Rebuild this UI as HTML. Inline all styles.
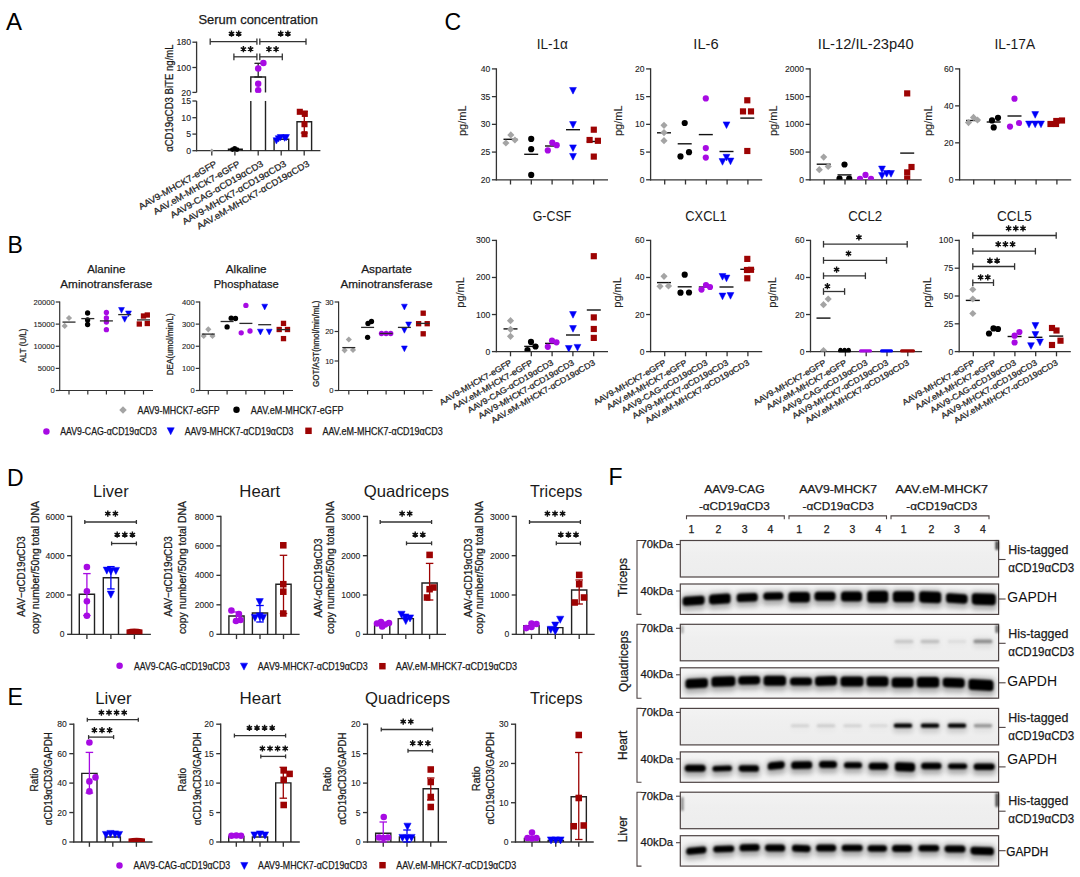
<!DOCTYPE html>
<html><head><meta charset="utf-8"><style>html,body{margin:0;padding:0;background:#fff;width:1080px;height:877px;overflow:hidden}svg{display:block}text{font-family:"Liberation Sans",sans-serif}</style></head>
<body><svg width="1080" height="877" viewBox="0 0 1080 877" font-family="Liberation Sans"><defs><clipPath id="cl0"><rect x="496.4" y="28.9" width="121.6" height="150.9"/></clipPath><clipPath id="cl1"><rect x="650.6" y="28.9" width="121.6" height="150.9"/></clipPath><clipPath id="cl2"><rect x="810.1" y="28.9" width="121.6" height="150.9"/></clipPath><clipPath id="cl3"><rect x="959.6" y="28.9" width="121.6" height="150.9"/></clipPath><clipPath id="cl4"><rect x="496.4" y="200.4" width="121.6" height="151.2"/></clipPath><clipPath id="cl5"><rect x="650.6" y="200.4" width="121.6" height="151.2"/></clipPath><clipPath id="cl6"><rect x="810.5" y="200.4" width="121.6" height="151.2"/></clipPath><clipPath id="cl7"><rect x="959.2" y="200.4" width="121.6" height="151.2"/></clipPath><filter id="bl2" x="-30%" y="-100%" width="160%" height="300%"><feGaussianBlur stdDeviation="2.2 1.6"/></filter><filter id="bl1" x="-30%" y="-100%" width="160%" height="300%"><feGaussianBlur stdDeviation="1.2 0.9"/></filter><filter id="bl3" x="-30%" y="-100%" width="160%" height="300%"><feGaussianBlur stdDeviation="3 2.5"/></filter><linearGradient id="gbg2" x1="0" y1="0" x2="0" y2="1"><stop offset="0" stop-color="#f6f6f6"/><stop offset="0.5" stop-color="#ececec"/><stop offset="1" stop-color="#f4f4f4"/></linearGradient><linearGradient id="gbg" x1="0" y1="0" x2="0" y2="1"><stop offset="0" stop-color="#f3f3f3"/><stop offset="0.4" stop-color="#efefef"/><stop offset="1" stop-color="#ededed"/></linearGradient><filter id="cf" x="-100%" y="-100%" width="300%" height="300%"><feGaussianBlur stdDeviation="1.2"/></filter><filter id="hb" x="-50%" y="-100%" width="200%" height="300%"><feGaussianBlur stdDeviation="2.6"/></filter><filter id="cb" x="-50%" y="-100%" width="200%" height="300%"><feGaussianBlur stdDeviation="0.9"/></filter><filter id="cb2" x="-50%" y="-100%" width="200%" height="300%"><feGaussianBlur stdDeviation="1.6"/></filter></defs><rect width="1080" height="877" fill="#fff"/><text x="6" y="30" font-size="24" text-anchor="start" fill="#000">A</text>
<text x="7.5" y="252.6" font-size="23" text-anchor="start" fill="#000">B</text>
<text x="444.5" y="30" font-size="23" text-anchor="start" fill="#000">C</text>
<text x="7" y="486" font-size="23" text-anchor="start" fill="#000">D</text>
<text x="7.5" y="705" font-size="23" text-anchor="start" fill="#000">E</text>
<text x="608.5" y="485.1" font-size="23" text-anchor="start" fill="#000">F</text>
<text x="258.2" y="24" font-size="12.5" text-anchor="middle" fill="#1a1a1a" textLength="119.5" lengthAdjust="spacingAndGlyphs" stroke="#1a1a1a" stroke-width="0.25">Serum concentration</text>
<line x1="196.6" y1="41.6" x2="196.6" y2="92.4" stroke="#333333" stroke-width="1.3"/>
<line x1="196.6" y1="100.9" x2="196.6" y2="151.3" stroke="#333333" stroke-width="1.3"/>
<line x1="192.4" y1="42.2" x2="196.6" y2="42.2" stroke="#333333" stroke-width="1.3"/>
<text x="191.1" y="45.4" font-size="8.8" text-anchor="end" fill="#222" stroke="#222" stroke-width="0.1">180</text>
<line x1="192.4" y1="67.5" x2="196.6" y2="67.5" stroke="#333333" stroke-width="1.3"/>
<text x="191.1" y="70.7" font-size="8.8" text-anchor="end" fill="#222" stroke="#222" stroke-width="0.1">100</text>
<line x1="192.4" y1="92.4" x2="196.6" y2="92.4" stroke="#333333" stroke-width="1.3"/>
<text x="191.1" y="95.6" font-size="8.8" text-anchor="end" fill="#222" stroke="#222" stroke-width="0.1">20</text>
<line x1="192.4" y1="101" x2="196.6" y2="101" stroke="#333333" stroke-width="1.3"/>
<text x="191.1" y="104.2" font-size="8.8" text-anchor="end" fill="#222" stroke="#222" stroke-width="0.1">15</text>
<line x1="192.4" y1="117.7" x2="196.6" y2="117.7" stroke="#333333" stroke-width="1.3"/>
<text x="191.1" y="120.9" font-size="8.8" text-anchor="end" fill="#222" stroke="#222" stroke-width="0.1">10</text>
<line x1="192.4" y1="134.1" x2="196.6" y2="134.1" stroke="#333333" stroke-width="1.3"/>
<text x="191.1" y="137.3" font-size="8.8" text-anchor="end" fill="#222" stroke="#222" stroke-width="0.1">5</text>
<line x1="192.4" y1="150.7" x2="196.6" y2="150.7" stroke="#333333" stroke-width="1.3"/>
<text x="191.1" y="153.9" font-size="8.8" text-anchor="end" fill="#222" stroke="#222" stroke-width="0.1">0</text>
<line x1="196" y1="150.7" x2="320.4" y2="150.7" stroke="#333333" stroke-width="1.3"/>
<line x1="211.8" y1="150.7" x2="211.8" y2="155.4" stroke="#333333" stroke-width="1.3"/>
<line x1="234.9" y1="150.7" x2="234.9" y2="155.4" stroke="#333333" stroke-width="1.3"/>
<line x1="258.2" y1="150.7" x2="258.2" y2="155.4" stroke="#333333" stroke-width="1.3"/>
<line x1="281.2" y1="150.7" x2="281.2" y2="155.4" stroke="#333333" stroke-width="1.3"/>
<line x1="304.2" y1="150.7" x2="304.2" y2="155.4" stroke="#333333" stroke-width="1.3"/>
<path d="M250.8,92.4 V77 H265.5 V92.4" fill="none" stroke="#222" stroke-width="1.4"/>
<line x1="250.8" y1="100.9" x2="250.8" y2="150.7" stroke="#222" stroke-width="1.4"/>
<line x1="265.5" y1="100.9" x2="265.5" y2="150.7" stroke="#222" stroke-width="1.4"/>
<path d="M274.1,150.7 V139.2 H288.7 V150.7" fill="none" stroke="#222" stroke-width="1.4"/>
<path d="M297,150.7 V121.7 H311.6 V150.7" fill="none" stroke="#222" stroke-width="1.4"/>
<path d="M228.5,150.7 V149.3 H242.2 V150.7" fill="none" stroke="#111" stroke-width="1.4"/>
<line x1="258.2" y1="63.3" x2="258.2" y2="77" stroke="#222" stroke-width="1.3"/>
<line x1="254.45" y1="63.3" x2="261.95" y2="63.3" stroke="#222" stroke-width="1.3"/>
<line x1="254.45" y1="77" x2="261.95" y2="77" stroke="#222" stroke-width="1.3"/>
<line x1="304.3" y1="111.2" x2="304.3" y2="133" stroke="#9d0303" stroke-width="1.3"/>
<line x1="300.8" y1="111.2" x2="307.8" y2="111.2" stroke="#9d0303" stroke-width="1.3"/>
<line x1="300.8" y1="133" x2="307.8" y2="133" stroke="#9d0303" stroke-width="1.3"/>
<polygon points="211.8,148.44 213.56,150.2 211.8,151.96 210.04,150.2" fill="#a4a4a4"/>
<circle cx="234.7" cy="148.4" r="2.47" fill="#000000"/>
<circle cx="232.5" cy="149.6" r="2.47" fill="#000000"/>
<circle cx="237" cy="149.6" r="2.47" fill="#000000"/>
<circle cx="263.4" cy="63" r="3.23" fill="#a70ae3"/>
<circle cx="258.2" cy="68.5" r="3.23" fill="#a70ae3"/>
<circle cx="258.2" cy="83.8" r="3.23" fill="#a70ae3"/>
<circle cx="258.2" cy="90.2" r="3.23" fill="#a70ae3"/>
<rect x="244" y="92.9" width="28" height="7.6" fill="#fff"/>
<polygon points="273.14,137.71 279.65,137.71 276.4,144.06" fill="#0000f8" stroke="#0000f8" stroke-width="0.5" stroke-linejoin="round"/>
<polygon points="277.25,134.51 283.75,134.51 280.5,140.87" fill="#0000f8" stroke="#0000f8" stroke-width="0.5" stroke-linejoin="round"/>
<polygon points="281.35,135.01 287.86,135.01 284.6,141.37" fill="#0000f8" stroke="#0000f8" stroke-width="0.5" stroke-linejoin="round"/>
<polygon points="282.94,134.51 289.45,134.51 286.2,140.87" fill="#0000f8" stroke="#0000f8" stroke-width="0.5" stroke-linejoin="round"/>
<polygon points="275.25,135.71 281.75,135.71 278.5,142.06" fill="#0000f8" stroke="#0000f8" stroke-width="0.5" stroke-linejoin="round"/>
<rect x="296.76" y="108.76" width="6.08" height="6.08" fill="#9d0303"/>
<rect x="301.76" y="110.86" width="6.08" height="6.08" fill="#9d0303"/>
<rect x="301.46" y="121.16" width="6.08" height="6.08" fill="#9d0303"/>
<rect x="301.46" y="131.16" width="6.08" height="6.08" fill="#9d0303"/>
<line x1="210.2" y1="41.7" x2="256.9" y2="41.7" stroke="#333333" stroke-width="1.3"/>
<line x1="210.2" y1="38.6" x2="210.2" y2="44.8" stroke="#333333" stroke-width="1.3"/>
<line x1="256.9" y1="38.6" x2="256.9" y2="44.8" stroke="#333333" stroke-width="1.3"/>
<line x1="259.8" y1="41.7" x2="306" y2="41.7" stroke="#333333" stroke-width="1.3"/>
<line x1="259.8" y1="38.6" x2="259.8" y2="44.8" stroke="#333333" stroke-width="1.3"/>
<line x1="306" y1="38.6" x2="306" y2="44.8" stroke="#333333" stroke-width="1.3"/>
<path d="M231.5,36.8L231.5,30.6M228.82,35.25L234.18,32.15M234.18,35.25L228.82,32.15" stroke="#111" stroke-width="1.45" stroke-linecap="butt"/>
<circle cx="231.5" cy="33.7" r="1.55" fill="#111"/>
<path d="M238.7,36.8L238.7,30.6M236.02,35.25L241.38,32.15M241.38,35.25L236.02,32.15" stroke="#111" stroke-width="1.45" stroke-linecap="butt"/>
<circle cx="238.7" cy="33.7" r="1.55" fill="#111"/>
<path d="M280.7,36.8L280.7,30.6M278.02,35.25L283.38,32.15M283.38,35.25L278.02,32.15" stroke="#111" stroke-width="1.45" stroke-linecap="butt"/>
<circle cx="280.7" cy="33.7" r="1.55" fill="#111"/>
<path d="M287.9,36.8L287.9,30.6M285.22,35.25L290.58,32.15M290.58,35.25L285.22,32.15" stroke="#111" stroke-width="1.45" stroke-linecap="butt"/>
<circle cx="287.9" cy="33.7" r="1.55" fill="#111"/>
<line x1="233.9" y1="56.8" x2="256.9" y2="56.8" stroke="#333333" stroke-width="1.3"/>
<line x1="233.9" y1="53.4" x2="233.9" y2="60.2" stroke="#333333" stroke-width="1.3"/>
<line x1="256.9" y1="53.4" x2="256.9" y2="60.2" stroke="#333333" stroke-width="1.3"/>
<line x1="259.8" y1="56.8" x2="282.3" y2="56.8" stroke="#333333" stroke-width="1.3"/>
<line x1="259.8" y1="53.4" x2="259.8" y2="60.2" stroke="#333333" stroke-width="1.3"/>
<line x1="282.3" y1="53.4" x2="282.3" y2="60.2" stroke="#333333" stroke-width="1.3"/>
<path d="M243.4,52.2L243.4,46M240.72,50.65L246.08,47.55M246.08,50.65L240.72,47.55" stroke="#111" stroke-width="1.45" stroke-linecap="butt"/>
<circle cx="243.4" cy="49.1" r="1.55" fill="#111"/>
<path d="M250.6,52.2L250.6,46M247.92,50.65L253.28,47.55M253.28,50.65L247.92,47.55" stroke="#111" stroke-width="1.45" stroke-linecap="butt"/>
<circle cx="250.6" cy="49.1" r="1.55" fill="#111"/>
<path d="M268.9,52.2L268.9,46M266.22,50.65L271.58,47.55M271.58,50.65L266.22,47.55" stroke="#111" stroke-width="1.45" stroke-linecap="butt"/>
<circle cx="268.9" cy="49.1" r="1.55" fill="#111"/>
<path d="M276.1,52.2L276.1,46M273.42,50.65L278.78,47.55M278.78,50.65L273.42,47.55" stroke="#111" stroke-width="1.45" stroke-linecap="butt"/>
<circle cx="276.1" cy="49.1" r="1.55" fill="#111"/>
<text x="172.8" y="98.1" font-size="10.5" text-anchor="middle" fill="#1a1a1a" textLength="107.5" lengthAdjust="spacingAndGlyphs" transform="rotate(-90 172.8 98.1)" stroke="#1a1a1a" stroke-width="0.25">αCD19αCD3 BiTE ng/mL</text>
<text x="217.6" y="165.7" font-size="9" text-anchor="end" fill="#222" textLength="88.72" lengthAdjust="spacingAndGlyphs" transform="rotate(-30 217.6 165.7)" stroke="#222" stroke-width="0.25">AAV9-MHCK7-eGFP</text>
<text x="240.7" y="165.7" font-size="9" text-anchor="end" fill="#222" textLength="98.48" lengthAdjust="spacingAndGlyphs" transform="rotate(-30 240.7 165.7)" stroke="#222" stroke-width="0.25">AAV.eM-MHCK7-eGFP</text>
<text x="264" y="165.7" font-size="9" text-anchor="end" fill="#222" textLength="105.66" lengthAdjust="spacingAndGlyphs" transform="rotate(-30 264 165.7)" stroke="#222" stroke-width="0.25">AAV9-CAG-αCD19αCD3</text>
<text x="287" y="165.7" font-size="9" text-anchor="end" fill="#222" textLength="118.44" lengthAdjust="spacingAndGlyphs" transform="rotate(-30 287 165.7)" stroke="#222" stroke-width="0.25">AAV9-MHCK7-αCD19αCD3</text>
<text x="310" y="165.7" font-size="9" text-anchor="end" fill="#222" textLength="128.2" lengthAdjust="spacingAndGlyphs" transform="rotate(-30 310 165.7)" stroke="#222" stroke-width="0.25">AAV.eM-MHCK7-αCD19αCD3</text>
<line x1="59.7" y1="301.4" x2="59.7" y2="391.1" stroke="#333333" stroke-width="1.2"/>
<line x1="59.1" y1="390.5" x2="153" y2="390.5" stroke="#333333" stroke-width="1.2"/>
<line x1="55.7" y1="390.5" x2="59.7" y2="390.5" stroke="#333333" stroke-width="1.2"/>
<text x="54.7" y="393.3" font-size="7.6" text-anchor="end" fill="#222" stroke="#222" stroke-width="0.1">0</text>
<line x1="55.7" y1="368.38" x2="59.7" y2="368.38" stroke="#333333" stroke-width="1.2"/>
<text x="54.7" y="371.18" font-size="7.6" text-anchor="end" fill="#222" stroke="#222" stroke-width="0.1">5000</text>
<line x1="55.7" y1="346.25" x2="59.7" y2="346.25" stroke="#333333" stroke-width="1.2"/>
<text x="54.7" y="349.05" font-size="7.6" text-anchor="end" fill="#222" stroke="#222" stroke-width="0.1">10000</text>
<line x1="55.7" y1="324.12" x2="59.7" y2="324.12" stroke="#333333" stroke-width="1.2"/>
<text x="54.7" y="326.93" font-size="7.6" text-anchor="end" fill="#222" stroke="#222" stroke-width="0.1">15000</text>
<line x1="55.7" y1="302" x2="59.7" y2="302" stroke="#333333" stroke-width="1.2"/>
<text x="54.7" y="304.8" font-size="7.6" text-anchor="end" fill="#222" stroke="#222" stroke-width="0.1">20000</text>
<line x1="69" y1="390.5" x2="69" y2="394.5" stroke="#333333" stroke-width="1.2"/>
<line x1="87.8" y1="390.5" x2="87.8" y2="394.5" stroke="#333333" stroke-width="1.2"/>
<line x1="106.4" y1="390.5" x2="106.4" y2="394.5" stroke="#333333" stroke-width="1.2"/>
<line x1="124.7" y1="390.5" x2="124.7" y2="394.5" stroke="#333333" stroke-width="1.2"/>
<line x1="143.5" y1="390.5" x2="143.5" y2="394.5" stroke="#333333" stroke-width="1.2"/>
<text x="26" y="345.5" font-size="8.2" text-anchor="middle" fill="#222" textLength="34" lengthAdjust="spacingAndGlyphs" transform="rotate(-90 26 345.5)" stroke="#222" stroke-width="0.25">ALT (U/L)</text>
<text x="106.3" y="273.3" font-size="11.5" text-anchor="middle" fill="#1a1a1a" textLength="38.2" lengthAdjust="spacingAndGlyphs" stroke="#1a1a1a" stroke-width="0.25">Alanine</text>
<text x="106.3" y="288.2" font-size="11.5" text-anchor="middle" fill="#1a1a1a" textLength="92.1" lengthAdjust="spacingAndGlyphs" stroke="#1a1a1a" stroke-width="0.25">Aminotransferase</text>
<polygon points="69,314.92 72.08,318 69,321.08 65.92,318" fill="#a4a4a4"/>
<polygon points="64.7,322.82 67.78,325.9 64.7,328.98 61.62,325.9" fill="#a4a4a4"/>
<circle cx="87.6" cy="313" r="2.66" fill="#000000"/>
<circle cx="87.6" cy="320" r="2.66" fill="#000000"/>
<circle cx="87.6" cy="324.5" r="2.66" fill="#000000"/>
<circle cx="106.4" cy="312.5" r="2.66" fill="#a70ae3"/>
<circle cx="106.4" cy="318" r="2.66" fill="#a70ae3"/>
<circle cx="106.4" cy="322" r="2.66" fill="#a70ae3"/>
<circle cx="106.4" cy="329.7" r="2.66" fill="#a70ae3"/>
<polygon points="118.56,307.48 124.44,307.48 121.5,313.22" fill="#0000f8" stroke="#0000f8" stroke-width="0.5" stroke-linejoin="round"/>
<polygon points="125.56,310.98 131.44,310.98 128.5,316.72" fill="#0000f8" stroke="#0000f8" stroke-width="0.5" stroke-linejoin="round"/>
<polygon points="121.76,316.48 127.64,316.48 124.7,322.22" fill="#0000f8" stroke="#0000f8" stroke-width="0.5" stroke-linejoin="round"/>
<rect x="136.64" y="321.34" width="5.32" height="5.32" fill="#9d0303"/>
<rect x="140.84" y="313.34" width="5.32" height="5.32" fill="#9d0303"/>
<rect x="144.64" y="312.34" width="5.32" height="5.32" fill="#9d0303"/>
<rect x="144.64" y="320.84" width="5.32" height="5.32" fill="#9d0303"/>
<line x1="62.5" y1="322.1" x2="75.5" y2="322.1" stroke="#2a2a2a" stroke-width="1.3"/>
<line x1="81.3" y1="318.6" x2="94.3" y2="318.6" stroke="#2a2a2a" stroke-width="1.3"/>
<line x1="99.9" y1="320.9" x2="112.9" y2="320.9" stroke="#2a2a2a" stroke-width="1.3"/>
<line x1="118.2" y1="314.6" x2="131.2" y2="314.6" stroke="#2a2a2a" stroke-width="1.3"/>
<line x1="137" y1="319.9" x2="150" y2="319.9" stroke="#2a2a2a" stroke-width="1.3"/>
<line x1="199.7" y1="301.4" x2="199.7" y2="391.1" stroke="#333333" stroke-width="1.2"/>
<line x1="199.1" y1="390.5" x2="293" y2="390.5" stroke="#333333" stroke-width="1.2"/>
<line x1="195.7" y1="390.5" x2="199.7" y2="390.5" stroke="#333333" stroke-width="1.2"/>
<text x="194.7" y="393.3" font-size="7.6" text-anchor="end" fill="#222" stroke="#222" stroke-width="0.1">0</text>
<line x1="195.7" y1="368.38" x2="199.7" y2="368.38" stroke="#333333" stroke-width="1.2"/>
<text x="194.7" y="371.18" font-size="7.6" text-anchor="end" fill="#222" stroke="#222" stroke-width="0.1">100</text>
<line x1="195.7" y1="346.25" x2="199.7" y2="346.25" stroke="#333333" stroke-width="1.2"/>
<text x="194.7" y="349.05" font-size="7.6" text-anchor="end" fill="#222" stroke="#222" stroke-width="0.1">200</text>
<line x1="195.7" y1="324.12" x2="199.7" y2="324.12" stroke="#333333" stroke-width="1.2"/>
<text x="194.7" y="326.93" font-size="7.6" text-anchor="end" fill="#222" stroke="#222" stroke-width="0.1">300</text>
<line x1="195.7" y1="302" x2="199.7" y2="302" stroke="#333333" stroke-width="1.2"/>
<text x="194.7" y="304.8" font-size="7.6" text-anchor="end" fill="#222" stroke="#222" stroke-width="0.1">400</text>
<line x1="208.3" y1="390.5" x2="208.3" y2="394.5" stroke="#333333" stroke-width="1.2"/>
<line x1="227.1" y1="390.5" x2="227.1" y2="394.5" stroke="#333333" stroke-width="1.2"/>
<line x1="245.9" y1="390.5" x2="245.9" y2="394.5" stroke="#333333" stroke-width="1.2"/>
<line x1="264.7" y1="390.5" x2="264.7" y2="394.5" stroke="#333333" stroke-width="1.2"/>
<line x1="283.5" y1="390.5" x2="283.5" y2="394.5" stroke="#333333" stroke-width="1.2"/>
<text x="173" y="344.3" font-size="8.2" text-anchor="middle" fill="#222" textLength="62" lengthAdjust="spacingAndGlyphs" transform="rotate(-90 173 344.3)" stroke="#222" stroke-width="0.25">DEA(umol/min/L)</text>
<text x="246.2" y="273.3" font-size="11.5" text-anchor="middle" fill="#1a1a1a" textLength="40.8" lengthAdjust="spacingAndGlyphs" stroke="#1a1a1a" stroke-width="0.25">Alkaline</text>
<text x="246.2" y="288.2" font-size="11.5" text-anchor="middle" fill="#1a1a1a" textLength="65" lengthAdjust="spacingAndGlyphs" stroke="#1a1a1a" stroke-width="0.25">Phosphatase</text>
<polygon points="208.3,326.22 211.38,329.3 208.3,332.38 205.22,329.3" fill="#a4a4a4"/>
<polygon points="203.7,332.92 206.78,336 203.7,339.08 200.62,336" fill="#a4a4a4"/>
<polygon points="212.5,332.92 215.58,336 212.5,339.08 209.42,336" fill="#a4a4a4"/>
<circle cx="227.1" cy="326.9" r="2.66" fill="#000000"/>
<circle cx="231.2" cy="318.2" r="2.66" fill="#000000"/>
<circle cx="235.5" cy="318.5" r="2.66" fill="#000000"/>
<circle cx="245.9" cy="305.4" r="2.66" fill="#a70ae3"/>
<circle cx="241.2" cy="332.8" r="2.66" fill="#a70ae3"/>
<circle cx="250" cy="331" r="2.66" fill="#a70ae3"/>
<polygon points="261.76,304.18 267.64,304.18 264.7,309.92" fill="#0000f8" stroke="#0000f8" stroke-width="0.5" stroke-linejoin="round"/>
<polygon points="257.46,329.18 263.34,329.18 260.4,334.92" fill="#0000f8" stroke="#0000f8" stroke-width="0.5" stroke-linejoin="round"/>
<polygon points="266.26,329.18 272.14,329.18 269.2,334.92" fill="#0000f8" stroke="#0000f8" stroke-width="0.5" stroke-linejoin="round"/>
<rect x="280.84" y="320.74" width="5.32" height="5.32" fill="#9d0303"/>
<rect x="276.54" y="326.84" width="5.32" height="5.32" fill="#9d0303"/>
<rect x="284.84" y="326.84" width="5.32" height="5.32" fill="#9d0303"/>
<rect x="280.84" y="335.94" width="5.32" height="5.32" fill="#9d0303"/>
<line x1="201.8" y1="334.1" x2="214.8" y2="334.1" stroke="#2a2a2a" stroke-width="1.3"/>
<line x1="220.6" y1="321.5" x2="233.6" y2="321.5" stroke="#2a2a2a" stroke-width="1.3"/>
<line x1="239.4" y1="323.4" x2="252.4" y2="323.4" stroke="#2a2a2a" stroke-width="1.3"/>
<line x1="258.2" y1="324.7" x2="271.2" y2="324.7" stroke="#2a2a2a" stroke-width="1.3"/>
<line x1="277" y1="329.6" x2="290" y2="329.6" stroke="#2a2a2a" stroke-width="1.3"/>
<line x1="338.6" y1="301.4" x2="338.6" y2="391.1" stroke="#333333" stroke-width="1.2"/>
<line x1="338" y1="390.5" x2="432.6" y2="390.5" stroke="#333333" stroke-width="1.2"/>
<line x1="334.6" y1="390.5" x2="338.6" y2="390.5" stroke="#333333" stroke-width="1.2"/>
<text x="333.6" y="393.3" font-size="7.6" text-anchor="end" fill="#222" stroke="#222" stroke-width="0.1">0</text>
<line x1="334.6" y1="361" x2="338.6" y2="361" stroke="#333333" stroke-width="1.2"/>
<text x="333.6" y="363.8" font-size="7.6" text-anchor="end" fill="#222" stroke="#222" stroke-width="0.1">10</text>
<line x1="334.6" y1="331.5" x2="338.6" y2="331.5" stroke="#333333" stroke-width="1.2"/>
<text x="333.6" y="334.3" font-size="7.6" text-anchor="end" fill="#222" stroke="#222" stroke-width="0.1">20</text>
<line x1="334.6" y1="302" x2="338.6" y2="302" stroke="#333333" stroke-width="1.2"/>
<text x="333.6" y="304.8" font-size="7.6" text-anchor="end" fill="#222" stroke="#222" stroke-width="0.1">30</text>
<line x1="348.8" y1="390.5" x2="348.8" y2="394.5" stroke="#333333" stroke-width="1.2"/>
<line x1="367.6" y1="390.5" x2="367.6" y2="394.5" stroke="#333333" stroke-width="1.2"/>
<line x1="386.1" y1="390.5" x2="386.1" y2="394.5" stroke="#333333" stroke-width="1.2"/>
<line x1="404.4" y1="390.5" x2="404.4" y2="394.5" stroke="#333333" stroke-width="1.2"/>
<line x1="423.2" y1="390.5" x2="423.2" y2="394.5" stroke="#333333" stroke-width="1.2"/>
<text x="319" y="343.8" font-size="8.2" text-anchor="middle" fill="#222" textLength="86.4" lengthAdjust="spacingAndGlyphs" transform="rotate(-90 319 343.8)" stroke="#222" stroke-width="0.25">GOT/AST(nmol/min/mL)</text>
<text x="386.5" y="273.3" font-size="11.5" text-anchor="middle" fill="#1a1a1a" textLength="50.7" lengthAdjust="spacingAndGlyphs" stroke="#1a1a1a" stroke-width="0.25">Aspartate</text>
<text x="386.5" y="288.2" font-size="11.5" text-anchor="middle" fill="#1a1a1a" textLength="92.1" lengthAdjust="spacingAndGlyphs" stroke="#1a1a1a" stroke-width="0.25">Aminotransferase</text>
<polygon points="348.8,336.42 351.88,339.5 348.8,342.58 345.72,339.5" fill="#a4a4a4"/>
<polygon points="344.6,347.22 347.68,350.3 344.6,353.38 341.52,350.3" fill="#a4a4a4"/>
<polygon points="353,346.92 356.08,350 353,353.08 349.92,350" fill="#a4a4a4"/>
<circle cx="367.6" cy="337.3" r="2.66" fill="#000000"/>
<circle cx="368" cy="323.4" r="2.66" fill="#000000"/>
<circle cx="371.5" cy="321.5" r="2.66" fill="#000000"/>
<circle cx="381.5" cy="333.5" r="2.66" fill="#a70ae3"/>
<circle cx="386.1" cy="333.5" r="2.66" fill="#a70ae3"/>
<circle cx="390.7" cy="333.5" r="2.66" fill="#a70ae3"/>
<polygon points="401.46,304.18 407.34,304.18 404.4,309.92" fill="#0000f8" stroke="#0000f8" stroke-width="0.5" stroke-linejoin="round"/>
<polygon points="401.46,327.48 407.34,327.48 404.4,333.22" fill="#0000f8" stroke="#0000f8" stroke-width="0.5" stroke-linejoin="round"/>
<polygon points="405.66,321.98 411.54,321.98 408.6,327.72" fill="#0000f8" stroke="#0000f8" stroke-width="0.5" stroke-linejoin="round"/>
<polygon points="401.46,345.98 407.34,345.98 404.4,351.72" fill="#0000f8" stroke="#0000f8" stroke-width="0.5" stroke-linejoin="round"/>
<rect x="420.54" y="310.54" width="5.32" height="5.32" fill="#9d0303"/>
<rect x="415.94" y="321.04" width="5.32" height="5.32" fill="#9d0303"/>
<rect x="424.54" y="321.04" width="5.32" height="5.32" fill="#9d0303"/>
<rect x="420.54" y="331.14" width="5.32" height="5.32" fill="#9d0303"/>
<line x1="342.3" y1="347.6" x2="355.3" y2="347.6" stroke="#2a2a2a" stroke-width="1.3"/>
<line x1="361.1" y1="327.4" x2="374.1" y2="327.4" stroke="#2a2a2a" stroke-width="1.3"/>
<line x1="379.6" y1="333.5" x2="392.6" y2="333.5" stroke="#2a2a2a" stroke-width="1.3"/>
<line x1="397.9" y1="327.4" x2="410.9" y2="327.4" stroke="#2a2a2a" stroke-width="1.3"/>
<line x1="416.7" y1="323.4" x2="429.7" y2="323.4" stroke="#2a2a2a" stroke-width="1.3"/>
<polygon points="123,406.26 126.74,410 123,413.74 119.26,410" fill="#a4a4a4"/>
<text x="137.5" y="413.7" font-size="10.5" text-anchor="start" fill="#1a1a1a" textLength="82.1" lengthAdjust="spacingAndGlyphs" stroke="#1a1a1a" stroke-width="0.25">AAV9-MHCK7-eGFP</text>
<circle cx="236.5" cy="409.8" r="3.23" fill="#000000"/>
<text x="250.8" y="413.5" font-size="10.5" text-anchor="start" fill="#1a1a1a" textLength="92.6" lengthAdjust="spacingAndGlyphs" stroke="#1a1a1a" stroke-width="0.25">AAV.eM-MHCK7-eGFP</text>
<circle cx="46.4" cy="431.5" r="3.23" fill="#a70ae3"/>
<text x="60.2" y="435.2" font-size="10.5" text-anchor="start" fill="#1a1a1a" textLength="96.6" lengthAdjust="spacingAndGlyphs" stroke="#1a1a1a" stroke-width="0.25">AAV9-CAG-αCD19αCD3</text>
<polygon points="167.13,427.74 174.27,427.74 170.7,434.71" fill="#0000f8" stroke="#0000f8" stroke-width="0.5" stroke-linejoin="round"/>
<text x="184.7" y="434.5" font-size="10.5" text-anchor="start" fill="#1a1a1a" textLength="108.8" lengthAdjust="spacingAndGlyphs" stroke="#1a1a1a" stroke-width="0.25">AAV9-MHCK7-αCD19αCD3</text>
<rect x="305.27" y="427.57" width="6.46" height="6.46" fill="#9d0303"/>
<text x="322.5" y="434.5" font-size="10.5" text-anchor="start" fill="#1a1a1a" textLength="120.3" lengthAdjust="spacingAndGlyphs" stroke="#1a1a1a" stroke-width="0.25">AAV.eM-MHCK7-αCD19αCD3</text>
<line x1="496.4" y1="68.3" x2="496.4" y2="180.4" stroke="#333333" stroke-width="1.3"/>
<line x1="495.8" y1="179.8" x2="608" y2="179.8" stroke="#333333" stroke-width="1.3"/>
<line x1="491.9" y1="179.8" x2="496.4" y2="179.8" stroke="#333333" stroke-width="1.3"/>
<text x="490.4" y="182.8" font-size="8.6" text-anchor="end" fill="#222" stroke="#222" stroke-width="0.1">20</text>
<line x1="491.9" y1="152.08" x2="496.4" y2="152.08" stroke="#333333" stroke-width="1.3"/>
<text x="490.4" y="155.08" font-size="8.6" text-anchor="end" fill="#222" stroke="#222" stroke-width="0.1">25</text>
<line x1="491.9" y1="124.35" x2="496.4" y2="124.35" stroke="#333333" stroke-width="1.3"/>
<text x="490.4" y="127.35" font-size="8.6" text-anchor="end" fill="#222" stroke="#222" stroke-width="0.1">30</text>
<line x1="491.9" y1="96.62" x2="496.4" y2="96.62" stroke="#333333" stroke-width="1.3"/>
<text x="490.4" y="99.62" font-size="8.6" text-anchor="end" fill="#222" stroke="#222" stroke-width="0.1">35</text>
<line x1="491.9" y1="68.9" x2="496.4" y2="68.9" stroke="#333333" stroke-width="1.3"/>
<text x="490.4" y="71.9" font-size="8.6" text-anchor="end" fill="#222" stroke="#222" stroke-width="0.1">40</text>
<line x1="510.5" y1="179.8" x2="510.5" y2="184.5" stroke="#333333" stroke-width="1.3"/>
<line x1="531.3" y1="179.8" x2="531.3" y2="184.5" stroke="#333333" stroke-width="1.3"/>
<line x1="552.1" y1="179.8" x2="552.1" y2="184.5" stroke="#333333" stroke-width="1.3"/>
<line x1="572.9" y1="179.8" x2="572.9" y2="184.5" stroke="#333333" stroke-width="1.3"/>
<line x1="593.7" y1="179.8" x2="593.7" y2="184.5" stroke="#333333" stroke-width="1.3"/>
<text x="552.3" y="49.4" font-size="14" text-anchor="middle" fill="#1a1a1a" textLength="31.3" lengthAdjust="spacingAndGlyphs">IL-1α</text>
<text x="465.8" y="120.75" font-size="10" text-anchor="middle" fill="#222" textLength="30.5" lengthAdjust="spacingAndGlyphs" transform="rotate(-90 465.8 120.75)" stroke="#222" stroke-width="0.1">pg/mL</text>
<line x1="503.5" y1="139.3" x2="517.5" y2="139.3" stroke="#111" stroke-width="1.4"/>
<line x1="524.2" y1="154.3" x2="538.2" y2="154.3" stroke="#111" stroke-width="1.4"/>
<line x1="545" y1="146" x2="559" y2="146" stroke="#111" stroke-width="1.4"/>
<line x1="566" y1="129.7" x2="580" y2="129.7" stroke="#111" stroke-width="1.4"/>
<line x1="586.8" y1="141.5" x2="600.8" y2="141.5" stroke="#111" stroke-width="1.4"/>
<g clip-path="url(#cl0)">
<polygon points="510.8,131.33 514.38,134.9 510.8,138.47 507.23,134.9" fill="#a4a4a4"/>
<polygon points="505.9,139.43 509.47,143 505.9,146.57 502.32,143" fill="#a4a4a4"/>
<polygon points="514.9,136.43 518.48,140 514.9,143.57 511.32,140" fill="#a4a4a4"/>
<circle cx="531.2" cy="138.9" r="3.09" fill="#000000"/>
<circle cx="531.2" cy="149.2" r="3.09" fill="#000000"/>
<circle cx="531.2" cy="174.9" r="3.09" fill="#000000"/>
<circle cx="547.8" cy="150.4" r="3.09" fill="#a70ae3"/>
<circle cx="552.3" cy="142.7" r="3.09" fill="#a70ae3"/>
<circle cx="556.7" cy="145.2" r="3.09" fill="#a70ae3"/>
<polygon points="569.59,87.48 576.41,87.48 573,94.14" fill="#0000f8" stroke="#0000f8" stroke-width="0.5" stroke-linejoin="round"/>
<polygon points="569.59,121.58 576.41,121.58 573,128.24" fill="#0000f8" stroke="#0000f8" stroke-width="0.5" stroke-linejoin="round"/>
<polygon points="569.59,144.88 576.41,144.88 573,151.54" fill="#0000f8" stroke="#0000f8" stroke-width="0.5" stroke-linejoin="round"/>
<polygon points="569.59,153.47 576.41,153.47 573,160.14" fill="#0000f8" stroke="#0000f8" stroke-width="0.5" stroke-linejoin="round"/>
<rect x="590.71" y="126.61" width="6.17" height="6.17" fill="#9d0303"/>
<rect x="586.51" y="136.91" width="6.17" height="6.17" fill="#9d0303"/>
<rect x="594.81" y="137.71" width="6.17" height="6.17" fill="#9d0303"/>
<rect x="590.71" y="153.51" width="6.17" height="6.17" fill="#9d0303"/>
</g>
<line x1="650.6" y1="68.3" x2="650.6" y2="180.4" stroke="#333333" stroke-width="1.3"/>
<line x1="650" y1="179.8" x2="762.2" y2="179.8" stroke="#333333" stroke-width="1.3"/>
<line x1="646.1" y1="179.8" x2="650.6" y2="179.8" stroke="#333333" stroke-width="1.3"/>
<text x="644.6" y="182.8" font-size="8.6" text-anchor="end" fill="#222" stroke="#222" stroke-width="0.1">0</text>
<line x1="646.1" y1="152.08" x2="650.6" y2="152.08" stroke="#333333" stroke-width="1.3"/>
<text x="644.6" y="155.08" font-size="8.6" text-anchor="end" fill="#222" stroke="#222" stroke-width="0.1">5</text>
<line x1="646.1" y1="124.35" x2="650.6" y2="124.35" stroke="#333333" stroke-width="1.3"/>
<text x="644.6" y="127.35" font-size="8.6" text-anchor="end" fill="#222" stroke="#222" stroke-width="0.1">10</text>
<line x1="646.1" y1="96.62" x2="650.6" y2="96.62" stroke="#333333" stroke-width="1.3"/>
<text x="644.6" y="99.62" font-size="8.6" text-anchor="end" fill="#222" stroke="#222" stroke-width="0.1">15</text>
<line x1="646.1" y1="68.9" x2="650.6" y2="68.9" stroke="#333333" stroke-width="1.3"/>
<text x="644.6" y="71.9" font-size="8.6" text-anchor="end" fill="#222" stroke="#222" stroke-width="0.1">20</text>
<line x1="664.7" y1="179.8" x2="664.7" y2="184.5" stroke="#333333" stroke-width="1.3"/>
<line x1="685.5" y1="179.8" x2="685.5" y2="184.5" stroke="#333333" stroke-width="1.3"/>
<line x1="706.3" y1="179.8" x2="706.3" y2="184.5" stroke="#333333" stroke-width="1.3"/>
<line x1="727.1" y1="179.8" x2="727.1" y2="184.5" stroke="#333333" stroke-width="1.3"/>
<line x1="747.9" y1="179.8" x2="747.9" y2="184.5" stroke="#333333" stroke-width="1.3"/>
<text x="706" y="49.4" font-size="14" text-anchor="middle" fill="#1a1a1a" textLength="25.3" lengthAdjust="spacingAndGlyphs">IL-6</text>
<text x="621.9" y="120.75" font-size="10" text-anchor="middle" fill="#222" textLength="30.5" lengthAdjust="spacingAndGlyphs" transform="rotate(-90 621.9 120.75)" stroke="#222" stroke-width="0.1">pg/mL</text>
<line x1="657" y1="132.8" x2="671" y2="132.8" stroke="#111" stroke-width="1.4"/>
<line x1="677.7" y1="143.8" x2="691.7" y2="143.8" stroke="#111" stroke-width="1.4"/>
<line x1="698.8" y1="134.6" x2="712.8" y2="134.6" stroke="#111" stroke-width="1.4"/>
<line x1="719.5" y1="151.5" x2="733.5" y2="151.5" stroke="#111" stroke-width="1.4"/>
<line x1="740.3" y1="118.1" x2="754.3" y2="118.1" stroke="#111" stroke-width="1.4"/>
<g clip-path="url(#cl1)">
<polygon points="664,121.72 667.58,125.3 664,128.88 660.42,125.3" fill="#a4a4a4"/>
<polygon points="664,129.03 667.58,132.6 664,136.17 660.42,132.6" fill="#a4a4a4"/>
<polygon points="664,137.12 667.58,140.7 664,144.27 660.42,140.7" fill="#a4a4a4"/>
<circle cx="684.7" cy="123" r="3.09" fill="#000000"/>
<circle cx="680.5" cy="156.4" r="3.09" fill="#000000"/>
<circle cx="689" cy="152.2" r="3.09" fill="#000000"/>
<circle cx="705.8" cy="98.4" r="3.09" fill="#a70ae3"/>
<circle cx="705.8" cy="148.1" r="3.09" fill="#a70ae3"/>
<circle cx="705.8" cy="157.6" r="3.09" fill="#a70ae3"/>
<polygon points="723.09,121.88 729.91,121.88 726.5,128.54" fill="#0000f8" stroke="#0000f8" stroke-width="0.5" stroke-linejoin="round"/>
<polygon points="719.09,158.57 725.91,158.57 722.5,165.24" fill="#0000f8" stroke="#0000f8" stroke-width="0.5" stroke-linejoin="round"/>
<polygon points="727.09,158.07 733.91,158.07 730.5,164.74" fill="#0000f8" stroke="#0000f8" stroke-width="0.5" stroke-linejoin="round"/>
<polygon points="723.09,154.27 729.91,154.27 726.5,160.94" fill="#0000f8" stroke="#0000f8" stroke-width="0.5" stroke-linejoin="round"/>
<rect x="744.21" y="97.21" width="6.17" height="6.17" fill="#9d0303"/>
<rect x="739.91" y="108.31" width="6.17" height="6.17" fill="#9d0303"/>
<rect x="747.91" y="108.31" width="6.17" height="6.17" fill="#9d0303"/>
<rect x="744.21" y="147.91" width="6.17" height="6.17" fill="#9d0303"/>
</g>
<line x1="810.1" y1="68.3" x2="810.1" y2="180.4" stroke="#333333" stroke-width="1.3"/>
<line x1="809.5" y1="179.8" x2="921.7" y2="179.8" stroke="#333333" stroke-width="1.3"/>
<line x1="805.6" y1="179.8" x2="810.1" y2="179.8" stroke="#333333" stroke-width="1.3"/>
<text x="804.1" y="182.8" font-size="8.6" text-anchor="end" fill="#222" stroke="#222" stroke-width="0.1">0</text>
<line x1="805.6" y1="152.08" x2="810.1" y2="152.08" stroke="#333333" stroke-width="1.3"/>
<text x="804.1" y="155.08" font-size="8.6" text-anchor="end" fill="#222" stroke="#222" stroke-width="0.1">500</text>
<line x1="805.6" y1="124.35" x2="810.1" y2="124.35" stroke="#333333" stroke-width="1.3"/>
<text x="804.1" y="127.35" font-size="8.6" text-anchor="end" fill="#222" stroke="#222" stroke-width="0.1">1000</text>
<line x1="805.6" y1="96.62" x2="810.1" y2="96.62" stroke="#333333" stroke-width="1.3"/>
<text x="804.1" y="99.62" font-size="8.6" text-anchor="end" fill="#222" stroke="#222" stroke-width="0.1">1500</text>
<line x1="805.6" y1="68.9" x2="810.1" y2="68.9" stroke="#333333" stroke-width="1.3"/>
<text x="804.1" y="71.9" font-size="8.6" text-anchor="end" fill="#222" stroke="#222" stroke-width="0.1">2000</text>
<line x1="824.2" y1="179.8" x2="824.2" y2="184.5" stroke="#333333" stroke-width="1.3"/>
<line x1="845" y1="179.8" x2="845" y2="184.5" stroke="#333333" stroke-width="1.3"/>
<line x1="865.8" y1="179.8" x2="865.8" y2="184.5" stroke="#333333" stroke-width="1.3"/>
<line x1="886.6" y1="179.8" x2="886.6" y2="184.5" stroke="#333333" stroke-width="1.3"/>
<line x1="907.4" y1="179.8" x2="907.4" y2="184.5" stroke="#333333" stroke-width="1.3"/>
<text x="865.7" y="49.4" font-size="14" text-anchor="middle" fill="#1a1a1a" textLength="95.8" lengthAdjust="spacingAndGlyphs">IL-12/IL-23p40</text>
<text x="777.2" y="120.75" font-size="10" text-anchor="middle" fill="#222" textLength="30.5" lengthAdjust="spacingAndGlyphs" transform="rotate(-90 777.2 120.75)" stroke="#222" stroke-width="0.1">pg/mL</text>
<line x1="816.7" y1="164.2" x2="830.7" y2="164.2" stroke="#111" stroke-width="1.4"/>
<line x1="837.5" y1="174.9" x2="851.5" y2="174.9" stroke="#111" stroke-width="1.4"/>
<line x1="900.2" y1="153.1" x2="914.2" y2="153.1" stroke="#111" stroke-width="1.4"/>
<g clip-path="url(#cl2)">
<polygon points="823.7,153.53 827.28,157.1 823.7,160.67 820.12,157.1" fill="#a4a4a4"/>
<polygon points="819.3,166.12 822.88,169.7 819.3,173.27 815.72,169.7" fill="#a4a4a4"/>
<polygon points="828.2,162.83 831.78,166.4 828.2,169.97 824.62,166.4" fill="#a4a4a4"/>
<circle cx="844.5" cy="164.5" r="3.09" fill="#000000"/>
<circle cx="839.5" cy="178.5" r="3.09" fill="#000000"/>
<circle cx="849.2" cy="178.5" r="3.09" fill="#000000"/>
<circle cx="865.5" cy="174.9" r="3.09" fill="#a70ae3"/>
<circle cx="860" cy="178.8" r="3.09" fill="#a70ae3"/>
<circle cx="871" cy="178.8" r="3.09" fill="#a70ae3"/>
<polygon points="878.59,166.07 885.41,166.07 882,172.74" fill="#0000f8" stroke="#0000f8" stroke-width="0.5" stroke-linejoin="round"/>
<polygon points="883.29,170.47 890.11,170.47 886.7,177.14" fill="#0000f8" stroke="#0000f8" stroke-width="0.5" stroke-linejoin="round"/>
<polygon points="887.59,170.57 894.41,170.57 891,177.24" fill="#0000f8" stroke="#0000f8" stroke-width="0.5" stroke-linejoin="round"/>
<polygon points="878.59,172.57 885.41,172.57 882,179.24" fill="#0000f8" stroke="#0000f8" stroke-width="0.5" stroke-linejoin="round"/>
<rect x="904.11" y="90.31" width="6.17" height="6.17" fill="#9d0303"/>
<rect x="908.41" y="163.91" width="6.17" height="6.17" fill="#9d0303"/>
<rect x="904.11" y="169.31" width="6.17" height="6.17" fill="#9d0303"/>
<rect x="904.11" y="175.51" width="6.17" height="6.17" fill="#9d0303"/>
</g>
<line x1="959.6" y1="68.3" x2="959.6" y2="180.4" stroke="#333333" stroke-width="1.3"/>
<line x1="959" y1="179.8" x2="1071.2" y2="179.8" stroke="#333333" stroke-width="1.3"/>
<line x1="955.1" y1="179.8" x2="959.6" y2="179.8" stroke="#333333" stroke-width="1.3"/>
<text x="953.6" y="182.8" font-size="8.6" text-anchor="end" fill="#222" stroke="#222" stroke-width="0.1">0</text>
<line x1="955.1" y1="142.83" x2="959.6" y2="142.83" stroke="#333333" stroke-width="1.3"/>
<text x="953.6" y="145.83" font-size="8.6" text-anchor="end" fill="#222" stroke="#222" stroke-width="0.1">20</text>
<line x1="955.1" y1="105.87" x2="959.6" y2="105.87" stroke="#333333" stroke-width="1.3"/>
<text x="953.6" y="108.87" font-size="8.6" text-anchor="end" fill="#222" stroke="#222" stroke-width="0.1">40</text>
<line x1="955.1" y1="68.9" x2="959.6" y2="68.9" stroke="#333333" stroke-width="1.3"/>
<text x="953.6" y="71.9" font-size="8.6" text-anchor="end" fill="#222" stroke="#222" stroke-width="0.1">60</text>
<line x1="973.7" y1="179.8" x2="973.7" y2="184.5" stroke="#333333" stroke-width="1.3"/>
<line x1="994.5" y1="179.8" x2="994.5" y2="184.5" stroke="#333333" stroke-width="1.3"/>
<line x1="1015.3" y1="179.8" x2="1015.3" y2="184.5" stroke="#333333" stroke-width="1.3"/>
<line x1="1036.1" y1="179.8" x2="1036.1" y2="184.5" stroke="#333333" stroke-width="1.3"/>
<line x1="1056.9" y1="179.8" x2="1056.9" y2="184.5" stroke="#333333" stroke-width="1.3"/>
<text x="1014.8" y="49.4" font-size="14" text-anchor="middle" fill="#1a1a1a" textLength="40.6" lengthAdjust="spacingAndGlyphs">IL-17A</text>
<text x="931.5" y="120.75" font-size="10" text-anchor="middle" fill="#222" textLength="30.5" lengthAdjust="spacingAndGlyphs" transform="rotate(-90 931.5 120.75)" stroke="#222" stroke-width="0.1">pg/mL</text>
<line x1="966" y1="120.5" x2="980" y2="120.5" stroke="#111" stroke-width="1.4"/>
<line x1="986.7" y1="122" x2="1000.7" y2="122" stroke="#111" stroke-width="1.4"/>
<line x1="1007.5" y1="116" x2="1021.5" y2="116" stroke="#111" stroke-width="1.4"/>
<line x1="1028.2" y1="122" x2="1042.2" y2="122" stroke="#111" stroke-width="1.4"/>
<g clip-path="url(#cl3)">
<polygon points="968.5,119.02 972.08,122.6 968.5,126.17 964.92,122.6" fill="#a4a4a4"/>
<polygon points="973.5,113.83 977.08,117.4 973.5,120.98 969.92,117.4" fill="#a4a4a4"/>
<polygon points="977.5,116.42 981.08,120 977.5,123.58 973.92,120" fill="#a4a4a4"/>
<circle cx="993.7" cy="127.4" r="3.09" fill="#000000"/>
<circle cx="992" cy="120.4" r="3.09" fill="#000000"/>
<circle cx="998" cy="117.8" r="3.09" fill="#000000"/>
<circle cx="1014.5" cy="98.7" r="3.09" fill="#a70ae3"/>
<circle cx="1010" cy="126.6" r="3.09" fill="#a70ae3"/>
<circle cx="1019" cy="123" r="3.09" fill="#a70ae3"/>
<polygon points="1031.79,111.58 1038.61,111.58 1035.2,118.24" fill="#0000f8" stroke="#0000f8" stroke-width="0.5" stroke-linejoin="round"/>
<polygon points="1025.59,121.08 1032.41,121.08 1029,127.74" fill="#0000f8" stroke="#0000f8" stroke-width="0.5" stroke-linejoin="round"/>
<polygon points="1031.79,121.08 1038.61,121.08 1035.2,127.74" fill="#0000f8" stroke="#0000f8" stroke-width="0.5" stroke-linejoin="round"/>
<polygon points="1037.59,121.08 1044.41,121.08 1041,127.74" fill="#0000f8" stroke="#0000f8" stroke-width="0.5" stroke-linejoin="round"/>
<rect x="1047.41" y="120.91" width="6.17" height="6.17" fill="#9d0303"/>
<rect x="1053.21" y="117.91" width="6.17" height="6.17" fill="#9d0303"/>
<rect x="1058.91" y="117.41" width="6.17" height="6.17" fill="#9d0303"/>
<rect x="1052.91" y="120.91" width="6.17" height="6.17" fill="#9d0303"/>
</g>
<line x1="496.4" y1="239.8" x2="496.4" y2="352.2" stroke="#333333" stroke-width="1.3"/>
<line x1="495.8" y1="351.6" x2="608" y2="351.6" stroke="#333333" stroke-width="1.3"/>
<line x1="491.9" y1="351.6" x2="496.4" y2="351.6" stroke="#333333" stroke-width="1.3"/>
<text x="490.4" y="354.6" font-size="8.6" text-anchor="end" fill="#222" stroke="#222" stroke-width="0.1">0</text>
<line x1="491.9" y1="314.53" x2="496.4" y2="314.53" stroke="#333333" stroke-width="1.3"/>
<text x="490.4" y="317.53" font-size="8.6" text-anchor="end" fill="#222" stroke="#222" stroke-width="0.1">100</text>
<line x1="491.9" y1="277.47" x2="496.4" y2="277.47" stroke="#333333" stroke-width="1.3"/>
<text x="490.4" y="280.47" font-size="8.6" text-anchor="end" fill="#222" stroke="#222" stroke-width="0.1">200</text>
<line x1="491.9" y1="240.4" x2="496.4" y2="240.4" stroke="#333333" stroke-width="1.3"/>
<text x="490.4" y="243.4" font-size="8.6" text-anchor="end" fill="#222" stroke="#222" stroke-width="0.1">300</text>
<line x1="510.5" y1="351.6" x2="510.5" y2="356.3" stroke="#333333" stroke-width="1.3"/>
<line x1="531.3" y1="351.6" x2="531.3" y2="356.3" stroke="#333333" stroke-width="1.3"/>
<line x1="552.1" y1="351.6" x2="552.1" y2="356.3" stroke="#333333" stroke-width="1.3"/>
<line x1="572.9" y1="351.6" x2="572.9" y2="356.3" stroke="#333333" stroke-width="1.3"/>
<line x1="593.7" y1="351.6" x2="593.7" y2="356.3" stroke="#333333" stroke-width="1.3"/>
<text x="552" y="221.4" font-size="14" text-anchor="middle" fill="#1a1a1a" textLength="38.5" lengthAdjust="spacingAndGlyphs">G-CSF</text>
<text x="463.9" y="292.4" font-size="10" text-anchor="middle" fill="#222" textLength="30.5" lengthAdjust="spacingAndGlyphs" transform="rotate(-90 463.9 292.4)" stroke="#222" stroke-width="0.1">pg/mL</text>
<line x1="503.5" y1="328.9" x2="517.5" y2="328.9" stroke="#111" stroke-width="1.4"/>
<line x1="524.2" y1="346.4" x2="538.2" y2="346.4" stroke="#111" stroke-width="1.4"/>
<line x1="545" y1="343.4" x2="559" y2="343.4" stroke="#111" stroke-width="1.4"/>
<line x1="566" y1="335" x2="580" y2="335" stroke="#111" stroke-width="1.4"/>
<line x1="586.8" y1="310" x2="600.8" y2="310" stroke="#111" stroke-width="1.4"/>
<g clip-path="url(#cl4)">
<polygon points="510.5,317.12 514.08,320.7 510.5,324.27 506.93,320.7" fill="#a4a4a4"/>
<polygon points="510.5,325.73 514.08,329.3 510.5,332.88 506.93,329.3" fill="#a4a4a4"/>
<polygon points="510.5,332.73 514.08,336.3 510.5,339.88 506.93,336.3" fill="#a4a4a4"/>
<circle cx="531" cy="341.9" r="3.09" fill="#000000"/>
<circle cx="535.5" cy="346.5" r="3.09" fill="#000000"/>
<circle cx="527.5" cy="350" r="3.09" fill="#000000"/>
<circle cx="552" cy="340.5" r="3.09" fill="#a70ae3"/>
<circle cx="556.5" cy="342.3" r="3.09" fill="#a70ae3"/>
<circle cx="547.8" cy="346.8" r="3.09" fill="#a70ae3"/>
<polygon points="569.59,311.57 576.41,311.57 573,318.24" fill="#0000f8" stroke="#0000f8" stroke-width="0.5" stroke-linejoin="round"/>
<polygon points="569.59,325.57 576.41,325.57 573,332.24" fill="#0000f8" stroke="#0000f8" stroke-width="0.5" stroke-linejoin="round"/>
<polygon points="565.39,345.47 572.21,345.47 568.8,352.14" fill="#0000f8" stroke="#0000f8" stroke-width="0.5" stroke-linejoin="round"/>
<polygon points="574.09,344.38 580.91,344.38 577.5,351.04" fill="#0000f8" stroke="#0000f8" stroke-width="0.5" stroke-linejoin="round"/>
<rect x="590.71" y="253.11" width="6.17" height="6.17" fill="#9d0303"/>
<rect x="590.71" y="314.31" width="6.17" height="6.17" fill="#9d0303"/>
<rect x="590.71" y="325.91" width="6.17" height="6.17" fill="#9d0303"/>
<rect x="590.71" y="334.81" width="6.17" height="6.17" fill="#9d0303"/>
</g>
<text x="512.5" y="364.4" font-size="8.2" text-anchor="end" fill="#222" textLength="81.96" lengthAdjust="spacingAndGlyphs" transform="rotate(-30 512.5 364.4)" stroke="#222" stroke-width="0.25">AAV9-MHCK7-eGFP</text>
<text x="533.3" y="364.4" font-size="8.2" text-anchor="end" fill="#222" textLength="90.98" lengthAdjust="spacingAndGlyphs" transform="rotate(-30 533.3 364.4)" stroke="#222" stroke-width="0.25">AAV.eM-MHCK7-eGFP</text>
<text x="554.1" y="364.4" font-size="8.2" text-anchor="end" fill="#222" textLength="97.61" lengthAdjust="spacingAndGlyphs" transform="rotate(-30 554.1 364.4)" stroke="#222" stroke-width="0.25">AAV9-CAG-αCD19αCD3</text>
<text x="574.9" y="364.4" font-size="8.2" text-anchor="end" fill="#222" textLength="109.41" lengthAdjust="spacingAndGlyphs" transform="rotate(-30 574.9 364.4)" stroke="#222" stroke-width="0.25">AAV9-MHCK7-αCD19αCD3</text>
<text x="595.7" y="364.4" font-size="8.2" text-anchor="end" fill="#222" textLength="118.43" lengthAdjust="spacingAndGlyphs" transform="rotate(-30 595.7 364.4)" stroke="#222" stroke-width="0.25">AAV.eM-MHCK7-αCD19αCD3</text>
<line x1="650.6" y1="239.8" x2="650.6" y2="352.2" stroke="#333333" stroke-width="1.3"/>
<line x1="650" y1="351.6" x2="762.2" y2="351.6" stroke="#333333" stroke-width="1.3"/>
<line x1="646.1" y1="351.6" x2="650.6" y2="351.6" stroke="#333333" stroke-width="1.3"/>
<text x="644.6" y="354.6" font-size="8.6" text-anchor="end" fill="#222" stroke="#222" stroke-width="0.1">0</text>
<line x1="646.1" y1="314.53" x2="650.6" y2="314.53" stroke="#333333" stroke-width="1.3"/>
<text x="644.6" y="317.53" font-size="8.6" text-anchor="end" fill="#222" stroke="#222" stroke-width="0.1">20</text>
<line x1="646.1" y1="277.47" x2="650.6" y2="277.47" stroke="#333333" stroke-width="1.3"/>
<text x="644.6" y="280.47" font-size="8.6" text-anchor="end" fill="#222" stroke="#222" stroke-width="0.1">40</text>
<line x1="646.1" y1="240.4" x2="650.6" y2="240.4" stroke="#333333" stroke-width="1.3"/>
<text x="644.6" y="243.4" font-size="8.6" text-anchor="end" fill="#222" stroke="#222" stroke-width="0.1">60</text>
<line x1="664.7" y1="351.6" x2="664.7" y2="356.3" stroke="#333333" stroke-width="1.3"/>
<line x1="685.5" y1="351.6" x2="685.5" y2="356.3" stroke="#333333" stroke-width="1.3"/>
<line x1="706.3" y1="351.6" x2="706.3" y2="356.3" stroke="#333333" stroke-width="1.3"/>
<line x1="727.1" y1="351.6" x2="727.1" y2="356.3" stroke="#333333" stroke-width="1.3"/>
<line x1="747.9" y1="351.6" x2="747.9" y2="356.3" stroke="#333333" stroke-width="1.3"/>
<text x="706" y="221.2" font-size="14" text-anchor="middle" fill="#1a1a1a" textLength="41.4" lengthAdjust="spacingAndGlyphs">CXCL1</text>
<text x="621.5" y="292.4" font-size="10" text-anchor="middle" fill="#222" textLength="30.5" lengthAdjust="spacingAndGlyphs" transform="rotate(-90 621.5 292.4)" stroke="#222" stroke-width="0.1">pg/mL</text>
<line x1="657" y1="282.6" x2="671" y2="282.6" stroke="#111" stroke-width="1.4"/>
<line x1="677.7" y1="286.8" x2="691.7" y2="286.8" stroke="#111" stroke-width="1.4"/>
<line x1="698.8" y1="287" x2="712.8" y2="287" stroke="#111" stroke-width="1.4"/>
<line x1="719.5" y1="287" x2="733.5" y2="287" stroke="#111" stroke-width="1.4"/>
<line x1="740.3" y1="269.3" x2="754.3" y2="269.3" stroke="#111" stroke-width="1.4"/>
<g clip-path="url(#cl5)">
<polygon points="664,272.73 667.58,276.3 664,279.88 660.42,276.3" fill="#a4a4a4"/>
<polygon points="660,282.73 663.58,286.3 660,289.88 656.42,286.3" fill="#a4a4a4"/>
<polygon points="668.5,282.43 672.08,286 668.5,289.57 664.92,286" fill="#a4a4a4"/>
<circle cx="684.7" cy="274.7" r="3.09" fill="#000000"/>
<circle cx="680.5" cy="292.7" r="3.09" fill="#000000"/>
<circle cx="689" cy="292.5" r="3.09" fill="#000000"/>
<circle cx="701.5" cy="289.6" r="3.09" fill="#a70ae3"/>
<circle cx="706" cy="285" r="3.09" fill="#a70ae3"/>
<circle cx="710" cy="287" r="3.09" fill="#a70ae3"/>
<polygon points="719.09,273.47 725.91,273.47 722.5,280.14" fill="#0000f8" stroke="#0000f8" stroke-width="0.5" stroke-linejoin="round"/>
<polygon points="723.09,275.07 729.91,275.07 726.5,281.74" fill="#0000f8" stroke="#0000f8" stroke-width="0.5" stroke-linejoin="round"/>
<polygon points="719.09,293.07 725.91,293.07 722.5,299.74" fill="#0000f8" stroke="#0000f8" stroke-width="0.5" stroke-linejoin="round"/>
<polygon points="727.09,292.57 733.91,292.57 730.5,299.24" fill="#0000f8" stroke="#0000f8" stroke-width="0.5" stroke-linejoin="round"/>
<rect x="744.21" y="255.81" width="6.17" height="6.17" fill="#9d0303"/>
<rect x="747.91" y="266.71" width="6.17" height="6.17" fill="#9d0303"/>
<rect x="744.21" y="275.21" width="6.17" height="6.17" fill="#9d0303"/>
<rect x="743.91" y="266.91" width="6.17" height="6.17" fill="#9d0303"/>
</g>
<text x="666.7" y="364.4" font-size="8.2" text-anchor="end" fill="#222" textLength="81.96" lengthAdjust="spacingAndGlyphs" transform="rotate(-30 666.7 364.4)" stroke="#222" stroke-width="0.25">AAV9-MHCK7-eGFP</text>
<text x="687.5" y="364.4" font-size="8.2" text-anchor="end" fill="#222" textLength="90.98" lengthAdjust="spacingAndGlyphs" transform="rotate(-30 687.5 364.4)" stroke="#222" stroke-width="0.25">AAV.eM-MHCK7-eGFP</text>
<text x="708.3" y="364.4" font-size="8.2" text-anchor="end" fill="#222" textLength="97.61" lengthAdjust="spacingAndGlyphs" transform="rotate(-30 708.3 364.4)" stroke="#222" stroke-width="0.25">AAV9-CAG-αCD19αCD3</text>
<text x="729.1" y="364.4" font-size="8.2" text-anchor="end" fill="#222" textLength="109.41" lengthAdjust="spacingAndGlyphs" transform="rotate(-30 729.1 364.4)" stroke="#222" stroke-width="0.25">AAV9-MHCK7-αCD19αCD3</text>
<text x="749.9" y="364.4" font-size="8.2" text-anchor="end" fill="#222" textLength="118.43" lengthAdjust="spacingAndGlyphs" transform="rotate(-30 749.9 364.4)" stroke="#222" stroke-width="0.25">AAV.eM-MHCK7-αCD19αCD3</text>
<line x1="810.5" y1="239.8" x2="810.5" y2="352.2" stroke="#333333" stroke-width="1.3"/>
<line x1="809.9" y1="351.6" x2="922.1" y2="351.6" stroke="#333333" stroke-width="1.3"/>
<line x1="806" y1="351.6" x2="810.5" y2="351.6" stroke="#333333" stroke-width="1.3"/>
<text x="804.5" y="354.6" font-size="8.6" text-anchor="end" fill="#222" stroke="#222" stroke-width="0.1">0</text>
<line x1="806" y1="314.53" x2="810.5" y2="314.53" stroke="#333333" stroke-width="1.3"/>
<text x="804.5" y="317.53" font-size="8.6" text-anchor="end" fill="#222" stroke="#222" stroke-width="0.1">20</text>
<line x1="806" y1="277.47" x2="810.5" y2="277.47" stroke="#333333" stroke-width="1.3"/>
<text x="804.5" y="280.47" font-size="8.6" text-anchor="end" fill="#222" stroke="#222" stroke-width="0.1">40</text>
<line x1="806" y1="240.4" x2="810.5" y2="240.4" stroke="#333333" stroke-width="1.3"/>
<text x="804.5" y="243.4" font-size="8.6" text-anchor="end" fill="#222" stroke="#222" stroke-width="0.1">60</text>
<line x1="824.6" y1="351.6" x2="824.6" y2="356.3" stroke="#333333" stroke-width="1.3"/>
<line x1="845.4" y1="351.6" x2="845.4" y2="356.3" stroke="#333333" stroke-width="1.3"/>
<line x1="866.2" y1="351.6" x2="866.2" y2="356.3" stroke="#333333" stroke-width="1.3"/>
<line x1="887" y1="351.6" x2="887" y2="356.3" stroke="#333333" stroke-width="1.3"/>
<line x1="907.8" y1="351.6" x2="907.8" y2="356.3" stroke="#333333" stroke-width="1.3"/>
<text x="865.2" y="221.1" font-size="14" text-anchor="middle" fill="#1a1a1a" textLength="33.8" lengthAdjust="spacingAndGlyphs">CCL2</text>
<text x="775.8" y="292.4" font-size="10" text-anchor="middle" fill="#222" textLength="30.5" lengthAdjust="spacingAndGlyphs" transform="rotate(-90 775.8 292.4)" stroke="#222" stroke-width="0.1">pg/mL</text>
<line x1="816.5" y1="318.1" x2="830.5" y2="318.1" stroke="#111" stroke-width="1.4"/>
<g clip-path="url(#cl6)">
<polygon points="823.5,301.12 827.08,304.7 823.5,308.27 819.92,304.7" fill="#a4a4a4"/>
<polygon points="828.2,295.43 831.78,299 828.2,302.57 824.62,299" fill="#a4a4a4"/>
<polygon points="823.5,347.03 827.08,350.6 823.5,354.18 819.92,350.6" fill="#a4a4a4"/>
</g>
<text x="826.6" y="364.4" font-size="8.2" text-anchor="end" fill="#222" textLength="81.96" lengthAdjust="spacingAndGlyphs" transform="rotate(-30 826.6 364.4)" stroke="#222" stroke-width="0.25">AAV9-MHCK7-eGFP</text>
<text x="847.4" y="364.4" font-size="8.2" text-anchor="end" fill="#222" textLength="90.98" lengthAdjust="spacingAndGlyphs" transform="rotate(-30 847.4 364.4)" stroke="#222" stroke-width="0.25">AAV.eM-MHCK7-eGFP</text>
<text x="868.2" y="364.4" font-size="8.2" text-anchor="end" fill="#222" textLength="97.61" lengthAdjust="spacingAndGlyphs" transform="rotate(-30 868.2 364.4)" stroke="#222" stroke-width="0.25">AAV9-CAG-αCD19αCD3</text>
<text x="889" y="364.4" font-size="8.2" text-anchor="end" fill="#222" textLength="109.41" lengthAdjust="spacingAndGlyphs" transform="rotate(-30 889 364.4)" stroke="#222" stroke-width="0.25">AAV9-MHCK7-αCD19αCD3</text>
<text x="909.8" y="364.4" font-size="8.2" text-anchor="end" fill="#222" textLength="118.43" lengthAdjust="spacingAndGlyphs" transform="rotate(-30 909.8 364.4)" stroke="#222" stroke-width="0.25">AAV.eM-MHCK7-αCD19αCD3</text>
<rect x="838" y="349.2" width="13" height="3.2" rx="1.5" fill="#000000"/>
<rect x="859" y="349.2" width="13" height="3.2" rx="1.5" fill="#a70ae3"/>
<rect x="880" y="349.2" width="13" height="3.2" rx="1.5" fill="#0000f8"/>
<rect x="900" y="349.2" width="15" height="3.2" rx="1.5" fill="#9d0303"/>
<circle cx="840.5" cy="349.8" r="2.09" fill="#000000"/>
<circle cx="844.6" cy="349.8" r="2.09" fill="#000000"/>
<circle cx="848.6" cy="349.8" r="2.09" fill="#000000"/>
<line x1="823.5" y1="244.2" x2="907.2" y2="244.2" stroke="#333333" stroke-width="1.3"/>
<line x1="823.5" y1="240.9" x2="823.5" y2="247.5" stroke="#333333" stroke-width="1.3"/>
<line x1="907.2" y1="240.9" x2="907.2" y2="247.5" stroke="#333333" stroke-width="1.3"/>
<path d="M858.9,240.4L858.9,234.2M856.22,238.85L861.58,235.75M861.58,238.85L856.22,235.75" stroke="#111" stroke-width="1.45" stroke-linecap="butt"/>
<circle cx="858.9" cy="237.3" r="1.55" fill="#111"/>
<line x1="823.5" y1="260.4" x2="886.5" y2="260.4" stroke="#333333" stroke-width="1.3"/>
<line x1="823.5" y1="257.1" x2="823.5" y2="263.7" stroke="#333333" stroke-width="1.3"/>
<line x1="886.5" y1="257.1" x2="886.5" y2="263.7" stroke="#333333" stroke-width="1.3"/>
<path d="M848.5,256.6L848.5,250.4M845.82,255.05L851.18,251.95M851.18,255.05L845.82,251.95" stroke="#111" stroke-width="1.45" stroke-linecap="butt"/>
<circle cx="848.5" cy="253.5" r="1.55" fill="#111"/>
<line x1="823.5" y1="275.8" x2="865.4" y2="275.8" stroke="#333333" stroke-width="1.3"/>
<line x1="823.5" y1="272.5" x2="823.5" y2="279.1" stroke="#333333" stroke-width="1.3"/>
<line x1="865.4" y1="272.5" x2="865.4" y2="279.1" stroke="#333333" stroke-width="1.3"/>
<path d="M836.6,272.7L836.6,266.5M833.92,271.15L839.28,268.05M839.28,271.15L833.92,268.05" stroke="#111" stroke-width="1.45" stroke-linecap="butt"/>
<circle cx="836.6" cy="269.6" r="1.55" fill="#111"/>
<line x1="823.5" y1="291.5" x2="844.6" y2="291.5" stroke="#333333" stroke-width="1.3"/>
<line x1="823.5" y1="288.2" x2="823.5" y2="294.8" stroke="#333333" stroke-width="1.3"/>
<line x1="844.6" y1="288.2" x2="844.6" y2="294.8" stroke="#333333" stroke-width="1.3"/>
<path d="M827.4,289.3L827.4,283.1M824.72,287.75L830.08,284.65M830.08,287.75L824.72,284.65" stroke="#111" stroke-width="1.45" stroke-linecap="butt"/>
<circle cx="827.4" cy="286.2" r="1.55" fill="#111"/>
<line x1="959.2" y1="239.8" x2="959.2" y2="352.2" stroke="#333333" stroke-width="1.3"/>
<line x1="958.6" y1="351.6" x2="1070.8" y2="351.6" stroke="#333333" stroke-width="1.3"/>
<line x1="954.7" y1="351.6" x2="959.2" y2="351.6" stroke="#333333" stroke-width="1.3"/>
<text x="953.2" y="354.6" font-size="8.6" text-anchor="end" fill="#222" stroke="#222" stroke-width="0.1">0</text>
<line x1="954.7" y1="323.8" x2="959.2" y2="323.8" stroke="#333333" stroke-width="1.3"/>
<text x="953.2" y="326.8" font-size="8.6" text-anchor="end" fill="#222" stroke="#222" stroke-width="0.1">25</text>
<line x1="954.7" y1="296" x2="959.2" y2="296" stroke="#333333" stroke-width="1.3"/>
<text x="953.2" y="299" font-size="8.6" text-anchor="end" fill="#222" stroke="#222" stroke-width="0.1">50</text>
<line x1="954.7" y1="268.2" x2="959.2" y2="268.2" stroke="#333333" stroke-width="1.3"/>
<text x="953.2" y="271.2" font-size="8.6" text-anchor="end" fill="#222" stroke="#222" stroke-width="0.1">75</text>
<line x1="954.7" y1="240.4" x2="959.2" y2="240.4" stroke="#333333" stroke-width="1.3"/>
<text x="953.2" y="243.4" font-size="8.6" text-anchor="end" fill="#222" stroke="#222" stroke-width="0.1">100</text>
<line x1="973.3" y1="351.6" x2="973.3" y2="356.3" stroke="#333333" stroke-width="1.3"/>
<line x1="994.1" y1="351.6" x2="994.1" y2="356.3" stroke="#333333" stroke-width="1.3"/>
<line x1="1014.9" y1="351.6" x2="1014.9" y2="356.3" stroke="#333333" stroke-width="1.3"/>
<line x1="1035.7" y1="351.6" x2="1035.7" y2="356.3" stroke="#333333" stroke-width="1.3"/>
<line x1="1056.5" y1="351.6" x2="1056.5" y2="356.3" stroke="#333333" stroke-width="1.3"/>
<text x="1014.4" y="221.1" font-size="14" text-anchor="middle" fill="#1a1a1a" textLength="34.7" lengthAdjust="spacingAndGlyphs">CCL5</text>
<text x="931.4" y="292.4" font-size="10" text-anchor="middle" fill="#222" textLength="30.5" lengthAdjust="spacingAndGlyphs" transform="rotate(-90 931.4 292.4)" stroke="#222" stroke-width="0.1">pg/mL</text>
<line x1="965.8" y1="300.4" x2="979.8" y2="300.4" stroke="#111" stroke-width="1.4"/>
<line x1="1007.6" y1="336.5" x2="1021.6" y2="336.5" stroke="#111" stroke-width="1.4"/>
<line x1="1028.4" y1="337.3" x2="1042.4" y2="337.3" stroke="#111" stroke-width="1.4"/>
<line x1="1049.2" y1="336.1" x2="1063.2" y2="336.1" stroke="#111" stroke-width="1.4"/>
<g clip-path="url(#cl7)">
<polygon points="972.8,285.93 976.38,289.5 972.8,293.07 969.22,289.5" fill="#a4a4a4"/>
<polygon points="972.8,295.43 976.38,299 972.8,302.57 969.22,299" fill="#a4a4a4"/>
<polygon points="972.8,309.93 976.38,313.5 972.8,317.07 969.22,313.5" fill="#a4a4a4"/>
<circle cx="989" cy="333.5" r="3.09" fill="#000000"/>
<circle cx="993.5" cy="328.4" r="3.09" fill="#000000"/>
<circle cx="998" cy="329" r="3.09" fill="#000000"/>
<circle cx="1014.6" cy="335.7" r="3.09" fill="#a70ae3"/>
<circle cx="1019.4" cy="332" r="3.09" fill="#a70ae3"/>
<circle cx="1014.6" cy="342.5" r="3.09" fill="#a70ae3"/>
<polygon points="1031.99,322.57 1038.81,322.57 1035.4,329.24" fill="#0000f8" stroke="#0000f8" stroke-width="0.5" stroke-linejoin="round"/>
<polygon points="1031.99,331.57 1038.81,331.57 1035.4,338.24" fill="#0000f8" stroke="#0000f8" stroke-width="0.5" stroke-linejoin="round"/>
<polygon points="1027.59,342.68 1034.41,342.68 1031,349.34" fill="#0000f8" stroke="#0000f8" stroke-width="0.5" stroke-linejoin="round"/>
<polygon points="1036.59,339.07 1043.41,339.07 1040,345.74" fill="#0000f8" stroke="#0000f8" stroke-width="0.5" stroke-linejoin="round"/>
<rect x="1048.91" y="324.91" width="6.17" height="6.17" fill="#9d0303"/>
<rect x="1053.41" y="327.41" width="6.17" height="6.17" fill="#9d0303"/>
<rect x="1057.41" y="337.61" width="6.17" height="6.17" fill="#9d0303"/>
<rect x="1048.91" y="341.91" width="6.17" height="6.17" fill="#9d0303"/>
</g>
<text x="975.3" y="364.4" font-size="8.2" text-anchor="end" fill="#222" textLength="81.96" lengthAdjust="spacingAndGlyphs" transform="rotate(-30 975.3 364.4)" stroke="#222" stroke-width="0.25">AAV9-MHCK7-eGFP</text>
<text x="996.1" y="364.4" font-size="8.2" text-anchor="end" fill="#222" textLength="90.98" lengthAdjust="spacingAndGlyphs" transform="rotate(-30 996.1 364.4)" stroke="#222" stroke-width="0.25">AAV.eM-MHCK7-eGFP</text>
<text x="1016.9" y="364.4" font-size="8.2" text-anchor="end" fill="#222" textLength="97.61" lengthAdjust="spacingAndGlyphs" transform="rotate(-30 1016.9 364.4)" stroke="#222" stroke-width="0.25">AAV9-CAG-αCD19αCD3</text>
<text x="1037.7" y="364.4" font-size="8.2" text-anchor="end" fill="#222" textLength="109.41" lengthAdjust="spacingAndGlyphs" transform="rotate(-30 1037.7 364.4)" stroke="#222" stroke-width="0.25">AAV9-MHCK7-αCD19αCD3</text>
<text x="1058.5" y="364.4" font-size="8.2" text-anchor="end" fill="#222" textLength="118.43" lengthAdjust="spacingAndGlyphs" transform="rotate(-30 1058.5 364.4)" stroke="#222" stroke-width="0.25">AAV.eM-MHCK7-αCD19αCD3</text>
<line x1="972.8" y1="235.5" x2="1056.2" y2="235.5" stroke="#333333" stroke-width="1.3"/>
<line x1="972.8" y1="232.2" x2="972.8" y2="238.8" stroke="#333333" stroke-width="1.3"/>
<line x1="1056.2" y1="232.2" x2="1056.2" y2="238.8" stroke="#333333" stroke-width="1.3"/>
<path d="M1008.6,231.5L1008.6,225.3M1005.92,229.95L1011.28,226.85M1011.28,229.95L1005.92,226.85" stroke="#111" stroke-width="1.45" stroke-linecap="butt"/>
<circle cx="1008.6" cy="228.4" r="1.55" fill="#111"/>
<path d="M1015.8,231.5L1015.8,225.3M1013.12,229.95L1018.48,226.85M1018.48,229.95L1013.12,226.85" stroke="#111" stroke-width="1.45" stroke-linecap="butt"/>
<circle cx="1015.8" cy="228.4" r="1.55" fill="#111"/>
<path d="M1023,231.5L1023,225.3M1020.32,229.95L1025.68,226.85M1025.68,229.95L1020.32,226.85" stroke="#111" stroke-width="1.45" stroke-linecap="butt"/>
<circle cx="1023" cy="228.4" r="1.55" fill="#111"/>
<line x1="972.8" y1="251.2" x2="1035.4" y2="251.2" stroke="#333333" stroke-width="1.3"/>
<line x1="972.8" y1="247.9" x2="972.8" y2="254.5" stroke="#333333" stroke-width="1.3"/>
<line x1="1035.4" y1="247.9" x2="1035.4" y2="254.5" stroke="#333333" stroke-width="1.3"/>
<path d="M998.2,247.3L998.2,241.1M995.52,245.75L1000.88,242.65M1000.88,245.75L995.52,242.65" stroke="#111" stroke-width="1.45" stroke-linecap="butt"/>
<circle cx="998.2" cy="244.2" r="1.55" fill="#111"/>
<path d="M1005.4,247.3L1005.4,241.1M1002.72,245.75L1008.08,242.65M1008.08,245.75L1002.72,242.65" stroke="#111" stroke-width="1.45" stroke-linecap="butt"/>
<circle cx="1005.4" cy="244.2" r="1.55" fill="#111"/>
<path d="M1012.6,247.3L1012.6,241.1M1009.92,245.75L1015.28,242.65M1015.28,245.75L1009.92,242.65" stroke="#111" stroke-width="1.45" stroke-linecap="butt"/>
<circle cx="1012.6" cy="244.2" r="1.55" fill="#111"/>
<line x1="972.8" y1="266.5" x2="1014.6" y2="266.5" stroke="#333333" stroke-width="1.3"/>
<line x1="972.8" y1="263.2" x2="972.8" y2="269.8" stroke="#333333" stroke-width="1.3"/>
<line x1="1014.6" y1="263.2" x2="1014.6" y2="269.8" stroke="#333333" stroke-width="1.3"/>
<path d="M989.9,263.8L989.9,257.6M987.22,262.25L992.58,259.15M992.58,262.25L987.22,259.15" stroke="#111" stroke-width="1.45" stroke-linecap="butt"/>
<circle cx="989.9" cy="260.7" r="1.55" fill="#111"/>
<path d="M997.1,263.8L997.1,257.6M994.42,262.25L999.78,259.15M999.78,262.25L994.42,259.15" stroke="#111" stroke-width="1.45" stroke-linecap="butt"/>
<circle cx="997.1" cy="260.7" r="1.55" fill="#111"/>
<line x1="972.8" y1="282.7" x2="993.5" y2="282.7" stroke="#333333" stroke-width="1.3"/>
<line x1="972.8" y1="279.4" x2="972.8" y2="286" stroke="#333333" stroke-width="1.3"/>
<line x1="993.5" y1="279.4" x2="993.5" y2="286" stroke="#333333" stroke-width="1.3"/>
<path d="M980.6,280.4L980.6,274.2M977.92,278.85L983.28,275.75M983.28,278.85L977.92,275.75" stroke="#111" stroke-width="1.45" stroke-linecap="butt"/>
<circle cx="980.6" cy="277.3" r="1.55" fill="#111"/>
<path d="M987.8,280.4L987.8,274.2M985.12,278.85L990.48,275.75M990.48,278.85L985.12,275.75" stroke="#111" stroke-width="1.45" stroke-linecap="butt"/>
<circle cx="987.8" cy="277.3" r="1.55" fill="#111"/>
<line x1="71.6" y1="515.8" x2="71.6" y2="634.9" stroke="#333333" stroke-width="1.35"/>
<line x1="71" y1="634.3" x2="150.9" y2="634.3" stroke="#333333" stroke-width="1.35"/>
<line x1="67.1" y1="634.3" x2="71.6" y2="634.3" stroke="#333333" stroke-width="1.35"/>
<text x="64.6" y="637.4" font-size="8.6" text-anchor="end" fill="#222" stroke="#222" stroke-width="0.1">0</text>
<line x1="67.1" y1="595" x2="71.6" y2="595" stroke="#333333" stroke-width="1.35"/>
<text x="64.6" y="598.1" font-size="8.6" text-anchor="end" fill="#222" stroke="#222" stroke-width="0.1">2000</text>
<line x1="67.1" y1="555.7" x2="71.6" y2="555.7" stroke="#333333" stroke-width="1.35"/>
<text x="64.6" y="558.8" font-size="8.6" text-anchor="end" fill="#222" stroke="#222" stroke-width="0.1">4000</text>
<line x1="67.1" y1="516.4" x2="71.6" y2="516.4" stroke="#333333" stroke-width="1.35"/>
<text x="64.6" y="519.5" font-size="8.6" text-anchor="end" fill="#222" stroke="#222" stroke-width="0.1">6000</text>
<line x1="86.9" y1="634.3" x2="86.9" y2="639.1" stroke="#333333" stroke-width="1.35"/>
<line x1="110.9" y1="634.3" x2="110.9" y2="639.1" stroke="#333333" stroke-width="1.35"/>
<line x1="134.4" y1="634.3" x2="134.4" y2="639.1" stroke="#333333" stroke-width="1.35"/>
<text x="110.8" y="497" font-size="16.5" text-anchor="middle" fill="#1a1a1a" textLength="35.6" lengthAdjust="spacingAndGlyphs">Liver</text>
<text x="25" y="576.6" font-size="11" text-anchor="middle" fill="#1a1a1a" textLength="80.5" lengthAdjust="spacingAndGlyphs" transform="rotate(-90 25 576.6)" stroke="#1a1a1a" stroke-width="0.25">AAV−αCD19αCD3</text>
<text x="39.1" y="567.6" font-size="11" text-anchor="middle" fill="#1a1a1a" textLength="133" lengthAdjust="spacingAndGlyphs" transform="rotate(-90 39.1 567.6)" stroke="#1a1a1a" stroke-width="0.25">copy number/50ng total DNA</text>
<path d="M79.3,634.3 V594.2 H94.5 V634.3" fill="none" stroke="#222" stroke-width="1.4"/>
<path d="M103.3,634.3 V577.7 H118.5 V634.3" fill="none" stroke="#222" stroke-width="1.4"/>
<line x1="86.9" y1="573.6" x2="86.9" y2="615.5" stroke="#a70ae3" stroke-width="1.3"/>
<line x1="83.15" y1="573.6" x2="90.65" y2="573.6" stroke="#a70ae3" stroke-width="1.3"/>
<line x1="83.15" y1="615.5" x2="90.65" y2="615.5" stroke="#a70ae3" stroke-width="1.3"/>
<line x1="110.9" y1="566.6" x2="110.9" y2="588.9" stroke="#0000f8" stroke-width="1.3"/>
<line x1="107.15" y1="566.6" x2="114.65" y2="566.6" stroke="#0000f8" stroke-width="1.3"/>
<line x1="107.15" y1="588.9" x2="114.65" y2="588.9" stroke="#0000f8" stroke-width="1.3"/>
<circle cx="86.9" cy="567" r="3.28" fill="#a70ae3"/>
<circle cx="86.9" cy="591.2" r="3.28" fill="#a70ae3"/>
<circle cx="86.9" cy="601.2" r="3.28" fill="#a70ae3"/>
<circle cx="86.9" cy="615.7" r="3.28" fill="#a70ae3"/>
<polygon points="103.18,567.1 110.42,567.1 106.8,574.17" fill="#0000f8" stroke="#0000f8" stroke-width="0.5" stroke-linejoin="round"/>
<polygon points="107.28,567.89 114.52,567.89 110.9,574.97" fill="#0000f8" stroke="#0000f8" stroke-width="0.5" stroke-linejoin="round"/>
<polygon points="112.28,567.39 119.52,567.39 115.9,574.47" fill="#0000f8" stroke="#0000f8" stroke-width="0.5" stroke-linejoin="round"/>
<polygon points="107.28,591.1 114.52,591.1 110.9,598.17" fill="#0000f8" stroke="#0000f8" stroke-width="0.5" stroke-linejoin="round"/>
<line x1="84.8" y1="522" x2="136.4" y2="522" stroke="#333333" stroke-width="1.3"/>
<line x1="84.8" y1="520" x2="84.8" y2="524" stroke="#333333" stroke-width="1.3"/>
<line x1="136.4" y1="520" x2="136.4" y2="524" stroke="#333333" stroke-width="1.3"/>
<path d="M107.8,516.7L107.8,510.5M105.12,515.15L110.48,512.05M110.48,515.15L105.12,512.05" stroke="#111" stroke-width="1.45" stroke-linecap="butt"/>
<circle cx="107.8" cy="513.6" r="1.55" fill="#111"/>
<path d="M115.4,516.7L115.4,510.5M112.72,515.15L118.08,512.05M118.08,515.15L112.72,512.05" stroke="#111" stroke-width="1.45" stroke-linecap="butt"/>
<circle cx="115.4" cy="513.6" r="1.55" fill="#111"/>
<line x1="111.6" y1="543.5" x2="136.4" y2="543.5" stroke="#333333" stroke-width="1.3"/>
<line x1="111.6" y1="541.5" x2="111.6" y2="545.5" stroke="#333333" stroke-width="1.3"/>
<line x1="136.4" y1="541.5" x2="136.4" y2="545.5" stroke="#333333" stroke-width="1.3"/>
<path d="M117.2,537.8L117.2,531.6M114.52,536.25L119.88,533.15M119.88,536.25L114.52,533.15" stroke="#111" stroke-width="1.45" stroke-linecap="butt"/>
<circle cx="117.2" cy="534.7" r="1.55" fill="#111"/>
<path d="M124.8,537.8L124.8,531.6M122.12,536.25L127.48,533.15M127.48,536.25L122.12,533.15" stroke="#111" stroke-width="1.45" stroke-linecap="butt"/>
<circle cx="124.8" cy="534.7" r="1.55" fill="#111"/>
<path d="M132.4,537.8L132.4,531.6M129.72,536.25L135.08,533.15M135.08,536.25L129.72,533.15" stroke="#111" stroke-width="1.45" stroke-linecap="butt"/>
<circle cx="132.4" cy="534.7" r="1.55" fill="#111"/>
<path d="M126.5,634.3 V629.5 Q134,627.5 142.5,629.5 V634.3 Z" fill="#9d0303"/>
<line x1="220.9" y1="515.8" x2="220.9" y2="634.9" stroke="#333333" stroke-width="1.35"/>
<line x1="220.3" y1="634.3" x2="299.6" y2="634.3" stroke="#333333" stroke-width="1.35"/>
<line x1="216.4" y1="634.3" x2="220.9" y2="634.3" stroke="#333333" stroke-width="1.35"/>
<text x="213.9" y="637.4" font-size="8.6" text-anchor="end" fill="#222" stroke="#222" stroke-width="0.1">0</text>
<line x1="216.4" y1="604.82" x2="220.9" y2="604.82" stroke="#333333" stroke-width="1.35"/>
<text x="213.9" y="607.92" font-size="8.6" text-anchor="end" fill="#222" stroke="#222" stroke-width="0.1">2000</text>
<line x1="216.4" y1="575.35" x2="220.9" y2="575.35" stroke="#333333" stroke-width="1.35"/>
<text x="213.9" y="578.45" font-size="8.6" text-anchor="end" fill="#222" stroke="#222" stroke-width="0.1">4000</text>
<line x1="216.4" y1="545.88" x2="220.9" y2="545.88" stroke="#333333" stroke-width="1.35"/>
<text x="213.9" y="548.98" font-size="8.6" text-anchor="end" fill="#222" stroke="#222" stroke-width="0.1">6000</text>
<line x1="216.4" y1="516.4" x2="220.9" y2="516.4" stroke="#333333" stroke-width="1.35"/>
<text x="213.9" y="519.5" font-size="8.6" text-anchor="end" fill="#222" stroke="#222" stroke-width="0.1">8000</text>
<line x1="236.5" y1="634.3" x2="236.5" y2="639.1" stroke="#333333" stroke-width="1.35"/>
<line x1="260" y1="634.3" x2="260" y2="639.1" stroke="#333333" stroke-width="1.35"/>
<line x1="283.5" y1="634.3" x2="283.5" y2="639.1" stroke="#333333" stroke-width="1.35"/>
<text x="259.8" y="497.1" font-size="16.5" text-anchor="middle" fill="#1a1a1a" textLength="40.9" lengthAdjust="spacingAndGlyphs">Heart</text>
<text x="172.1" y="576.6" font-size="11" text-anchor="middle" fill="#1a1a1a" textLength="80.5" lengthAdjust="spacingAndGlyphs" transform="rotate(-90 172.1 576.6)" stroke="#1a1a1a" stroke-width="0.25">AAV−αCD19αCD3</text>
<text x="186.1" y="567.6" font-size="11" text-anchor="middle" fill="#1a1a1a" textLength="133" lengthAdjust="spacingAndGlyphs" transform="rotate(-90 186.1 567.6)" stroke="#1a1a1a" stroke-width="0.25">copy number/50ng total DNA</text>
<path d="M228.9,634.3 V616 H244.1 V634.3" fill="none" stroke="#222" stroke-width="1.4"/>
<path d="M252.4,634.3 V613 H267.6 V634.3" fill="none" stroke="#222" stroke-width="1.4"/>
<path d="M275.9,634.3 V584.2 H291.1 V634.3" fill="none" stroke="#222" stroke-width="1.4"/>
<line x1="236.5" y1="612" x2="236.5" y2="622" stroke="#a70ae3" stroke-width="1.3"/>
<line x1="232.75" y1="612" x2="240.25" y2="612" stroke="#a70ae3" stroke-width="1.3"/>
<line x1="232.75" y1="622" x2="240.25" y2="622" stroke="#a70ae3" stroke-width="1.3"/>
<line x1="260" y1="605.5" x2="260" y2="622" stroke="#0000f8" stroke-width="1.3"/>
<line x1="256.25" y1="605.5" x2="263.75" y2="605.5" stroke="#0000f8" stroke-width="1.3"/>
<line x1="256.25" y1="622" x2="263.75" y2="622" stroke="#0000f8" stroke-width="1.3"/>
<line x1="283.5" y1="555.3" x2="283.5" y2="613.5" stroke="#9d0303" stroke-width="1.3"/>
<line x1="279.75" y1="555.3" x2="287.25" y2="555.3" stroke="#9d0303" stroke-width="1.3"/>
<line x1="279.75" y1="613.5" x2="287.25" y2="613.5" stroke="#9d0303" stroke-width="1.3"/>
<circle cx="231.4" cy="610.5" r="3.28" fill="#a70ae3"/>
<circle cx="238.9" cy="614" r="3.28" fill="#a70ae3"/>
<circle cx="240.5" cy="620" r="3.28" fill="#a70ae3"/>
<circle cx="236" cy="621" r="3.28" fill="#a70ae3"/>
<polygon points="256.08,598.6 263.32,598.6 259.7,605.67" fill="#0000f8" stroke="#0000f8" stroke-width="0.5" stroke-linejoin="round"/>
<polygon points="251.38,614.39 258.62,614.39 255,621.47" fill="#0000f8" stroke="#0000f8" stroke-width="0.5" stroke-linejoin="round"/>
<polygon points="259.38,614.39 266.62,614.39 263,621.47" fill="#0000f8" stroke="#0000f8" stroke-width="0.5" stroke-linejoin="round"/>
<polygon points="256.08,612.89 263.32,612.89 259.7,619.97" fill="#0000f8" stroke="#0000f8" stroke-width="0.5" stroke-linejoin="round"/>
<rect x="280.02" y="542.02" width="6.55" height="6.55" fill="#9d0303"/>
<rect x="280.02" y="580.92" width="6.55" height="6.55" fill="#9d0303"/>
<rect x="280.02" y="588.42" width="6.55" height="6.55" fill="#9d0303"/>
<rect x="280.02" y="610.22" width="6.55" height="6.55" fill="#9d0303"/>
<line x1="367.4" y1="515.8" x2="367.4" y2="634.9" stroke="#333333" stroke-width="1.35"/>
<line x1="366.8" y1="634.3" x2="446" y2="634.3" stroke="#333333" stroke-width="1.35"/>
<line x1="362.9" y1="634.3" x2="367.4" y2="634.3" stroke="#333333" stroke-width="1.35"/>
<text x="360.4" y="637.4" font-size="8.6" text-anchor="end" fill="#222" stroke="#222" stroke-width="0.1">0</text>
<line x1="362.9" y1="595" x2="367.4" y2="595" stroke="#333333" stroke-width="1.35"/>
<text x="360.4" y="598.1" font-size="8.6" text-anchor="end" fill="#222" stroke="#222" stroke-width="0.1">1000</text>
<line x1="362.9" y1="555.7" x2="367.4" y2="555.7" stroke="#333333" stroke-width="1.35"/>
<text x="360.4" y="558.8" font-size="8.6" text-anchor="end" fill="#222" stroke="#222" stroke-width="0.1">2000</text>
<line x1="362.9" y1="516.4" x2="367.4" y2="516.4" stroke="#333333" stroke-width="1.35"/>
<text x="360.4" y="519.5" font-size="8.6" text-anchor="end" fill="#222" stroke="#222" stroke-width="0.1">3000</text>
<line x1="382.2" y1="634.3" x2="382.2" y2="639.1" stroke="#333333" stroke-width="1.35"/>
<line x1="405.8" y1="634.3" x2="405.8" y2="639.1" stroke="#333333" stroke-width="1.35"/>
<line x1="429.6" y1="634.3" x2="429.6" y2="639.1" stroke="#333333" stroke-width="1.35"/>
<text x="406.5" y="497.1" font-size="16.5" text-anchor="middle" fill="#1a1a1a" textLength="85.3" lengthAdjust="spacingAndGlyphs">Quadriceps</text>
<text x="321.9" y="578" font-size="11" text-anchor="middle" fill="#1a1a1a" textLength="79" lengthAdjust="spacingAndGlyphs" transform="rotate(-90 321.9 578)" stroke="#1a1a1a" stroke-width="0.25">AAV-αCD19αCD3</text>
<text x="333.7" y="567.5" font-size="11" text-anchor="middle" fill="#1a1a1a" textLength="133" lengthAdjust="spacingAndGlyphs" transform="rotate(-90 333.7 567.5)" stroke="#1a1a1a" stroke-width="0.25">copy number/50ng total DNA</text>
<path d="M374.6,634.3 V625 H389.8 V634.3" fill="none" stroke="#222" stroke-width="1.4"/>
<path d="M398.2,634.3 V618.6 H413.4 V634.3" fill="none" stroke="#222" stroke-width="1.4"/>
<path d="M422,634.3 V583 H437.2 V634.3" fill="none" stroke="#222" stroke-width="1.4"/>
<line x1="429.6" y1="563.4" x2="429.6" y2="600" stroke="#9d0303" stroke-width="1.3"/>
<line x1="425.85" y1="563.4" x2="433.35" y2="563.4" stroke="#9d0303" stroke-width="1.3"/>
<line x1="425.85" y1="600" x2="433.35" y2="600" stroke="#9d0303" stroke-width="1.3"/>
<circle cx="377" cy="623.5" r="3.28" fill="#a70ae3"/>
<circle cx="381" cy="622" r="3.28" fill="#a70ae3"/>
<circle cx="385" cy="624.5" r="3.28" fill="#a70ae3"/>
<circle cx="389" cy="623" r="3.28" fill="#a70ae3"/>
<circle cx="382.2" cy="626.5" r="3.28" fill="#a70ae3"/>
<polygon points="397.88,611.19 405.12,611.19 401.5,618.27" fill="#0000f8" stroke="#0000f8" stroke-width="0.5" stroke-linejoin="round"/>
<polygon points="402.18,617.5 409.42,617.5 405.8,624.57" fill="#0000f8" stroke="#0000f8" stroke-width="0.5" stroke-linejoin="round"/>
<polygon points="406.38,614.89 413.62,614.89 410,621.97" fill="#0000f8" stroke="#0000f8" stroke-width="0.5" stroke-linejoin="round"/>
<polygon points="401.68,613.89 408.92,613.89 405.3,620.97" fill="#0000f8" stroke="#0000f8" stroke-width="0.5" stroke-linejoin="round"/>
<rect x="426.32" y="551.62" width="6.55" height="6.55" fill="#9d0303"/>
<rect x="426.32" y="585.92" width="6.55" height="6.55" fill="#9d0303"/>
<rect x="423.72" y="594.22" width="6.55" height="6.55" fill="#9d0303"/>
<rect x="430.12" y="584.22" width="6.55" height="6.55" fill="#9d0303"/>
<line x1="380.2" y1="522" x2="431.6" y2="522" stroke="#333333" stroke-width="1.3"/>
<line x1="380.2" y1="520" x2="380.2" y2="524" stroke="#333333" stroke-width="1.3"/>
<line x1="431.6" y1="520" x2="431.6" y2="524" stroke="#333333" stroke-width="1.3"/>
<path d="M402.1,516.7L402.1,510.5M399.42,515.15L404.78,512.05M404.78,515.15L399.42,512.05" stroke="#111" stroke-width="1.45" stroke-linecap="butt"/>
<circle cx="402.1" cy="513.6" r="1.55" fill="#111"/>
<path d="M409.7,516.7L409.7,510.5M407.02,515.15L412.38,512.05M412.38,515.15L407.02,512.05" stroke="#111" stroke-width="1.45" stroke-linecap="butt"/>
<circle cx="409.7" cy="513.6" r="1.55" fill="#111"/>
<line x1="406.5" y1="543.3" x2="431.6" y2="543.3" stroke="#333333" stroke-width="1.3"/>
<line x1="406.5" y1="541.3" x2="406.5" y2="545.3" stroke="#333333" stroke-width="1.3"/>
<line x1="431.6" y1="541.3" x2="431.6" y2="545.3" stroke="#333333" stroke-width="1.3"/>
<path d="M415.2,537.8L415.2,531.6M412.52,536.25L417.88,533.15M417.88,536.25L412.52,533.15" stroke="#111" stroke-width="1.45" stroke-linecap="butt"/>
<circle cx="415.2" cy="534.7" r="1.55" fill="#111"/>
<path d="M422.8,537.8L422.8,531.6M420.12,536.25L425.48,533.15M425.48,536.25L420.12,533.15" stroke="#111" stroke-width="1.45" stroke-linecap="butt"/>
<circle cx="422.8" cy="534.7" r="1.55" fill="#111"/>
<line x1="516.2" y1="515.8" x2="516.2" y2="634.9" stroke="#333333" stroke-width="1.35"/>
<line x1="515.6" y1="634.3" x2="594.7" y2="634.3" stroke="#333333" stroke-width="1.35"/>
<line x1="511.7" y1="634.3" x2="516.2" y2="634.3" stroke="#333333" stroke-width="1.35"/>
<text x="509.2" y="637.4" font-size="8.6" text-anchor="end" fill="#222" stroke="#222" stroke-width="0.1">0</text>
<line x1="511.7" y1="595" x2="516.2" y2="595" stroke="#333333" stroke-width="1.35"/>
<text x="509.2" y="598.1" font-size="8.6" text-anchor="end" fill="#222" stroke="#222" stroke-width="0.1">1000</text>
<line x1="511.7" y1="555.7" x2="516.2" y2="555.7" stroke="#333333" stroke-width="1.35"/>
<text x="509.2" y="558.8" font-size="8.6" text-anchor="end" fill="#222" stroke="#222" stroke-width="0.1">2000</text>
<line x1="511.7" y1="516.4" x2="516.2" y2="516.4" stroke="#333333" stroke-width="1.35"/>
<text x="509.2" y="519.5" font-size="8.6" text-anchor="end" fill="#222" stroke="#222" stroke-width="0.1">3000</text>
<line x1="531.5" y1="634.3" x2="531.5" y2="639.1" stroke="#333333" stroke-width="1.35"/>
<line x1="555.3" y1="634.3" x2="555.3" y2="639.1" stroke="#333333" stroke-width="1.35"/>
<line x1="579.2" y1="634.3" x2="579.2" y2="639.1" stroke="#333333" stroke-width="1.35"/>
<text x="556.1" y="497.1" font-size="16.5" text-anchor="middle" fill="#1a1a1a" textLength="52.2" lengthAdjust="spacingAndGlyphs">Triceps</text>
<text x="471.5" y="578" font-size="11" text-anchor="middle" fill="#1a1a1a" textLength="79" lengthAdjust="spacingAndGlyphs" transform="rotate(-90 471.5 578)" stroke="#1a1a1a" stroke-width="0.25">AAV-αCD19αCD3</text>
<text x="482.6" y="567.5" font-size="11" text-anchor="middle" fill="#1a1a1a" textLength="133" lengthAdjust="spacingAndGlyphs" transform="rotate(-90 482.6 567.5)" stroke="#1a1a1a" stroke-width="0.25">copy number/50ng total DNA</text>
<path d="M523.9,634.3 V625.6 H539.1 V634.3" fill="none" stroke="#222" stroke-width="1.4"/>
<path d="M547.7,634.3 V627.6 H562.9 V634.3" fill="none" stroke="#222" stroke-width="1.4"/>
<path d="M571.6,634.3 V590 H586.8 V634.3" fill="none" stroke="#222" stroke-width="1.4"/>
<line x1="579.2" y1="580" x2="579.2" y2="604" stroke="#9d0303" stroke-width="1.3"/>
<line x1="575.45" y1="580" x2="582.95" y2="580" stroke="#9d0303" stroke-width="1.3"/>
<line x1="575.45" y1="604" x2="582.95" y2="604" stroke="#9d0303" stroke-width="1.3"/>
<circle cx="526.2" cy="628.1" r="3.28" fill="#a70ae3"/>
<circle cx="531.5" cy="623.6" r="3.28" fill="#a70ae3"/>
<circle cx="536.5" cy="624" r="3.28" fill="#a70ae3"/>
<circle cx="531.5" cy="627" r="3.28" fill="#a70ae3"/>
<polygon points="547.18,626.29 554.42,626.29 550.8,633.37" fill="#0000f8" stroke="#0000f8" stroke-width="0.5" stroke-linejoin="round"/>
<polygon points="551.68,622 558.92,622 555.3,629.07" fill="#0000f8" stroke="#0000f8" stroke-width="0.5" stroke-linejoin="round"/>
<polygon points="556.58,616.19 563.82,616.19 560.2,623.27" fill="#0000f8" stroke="#0000f8" stroke-width="0.5" stroke-linejoin="round"/>
<polygon points="551.68,627.89 558.92,627.89 555.3,634.97" fill="#0000f8" stroke="#0000f8" stroke-width="0.5" stroke-linejoin="round"/>
<rect x="575.92" y="571.62" width="6.55" height="6.55" fill="#9d0303"/>
<rect x="575.92" y="580.92" width="6.55" height="6.55" fill="#9d0303"/>
<rect x="580.72" y="594.22" width="6.55" height="6.55" fill="#9d0303"/>
<rect x="571.42" y="599.22" width="6.55" height="6.55" fill="#9d0303"/>
<line x1="529.5" y1="522" x2="580.4" y2="522" stroke="#333333" stroke-width="1.3"/>
<line x1="529.5" y1="520" x2="529.5" y2="524" stroke="#333333" stroke-width="1.3"/>
<line x1="580.4" y1="520" x2="580.4" y2="524" stroke="#333333" stroke-width="1.3"/>
<path d="M547.4,516.7L547.4,510.5M544.72,515.15L550.08,512.05M550.08,515.15L544.72,512.05" stroke="#111" stroke-width="1.45" stroke-linecap="butt"/>
<circle cx="547.4" cy="513.6" r="1.55" fill="#111"/>
<path d="M555,516.7L555,510.5M552.32,515.15L557.68,512.05M557.68,515.15L552.32,512.05" stroke="#111" stroke-width="1.45" stroke-linecap="butt"/>
<circle cx="555" cy="513.6" r="1.55" fill="#111"/>
<path d="M562.6,516.7L562.6,510.5M559.92,515.15L565.28,512.05M565.28,515.15L559.92,512.05" stroke="#111" stroke-width="1.45" stroke-linecap="butt"/>
<circle cx="562.6" cy="513.6" r="1.55" fill="#111"/>
<line x1="556.3" y1="543.3" x2="580.4" y2="543.3" stroke="#333333" stroke-width="1.3"/>
<line x1="556.3" y1="541.3" x2="556.3" y2="545.3" stroke="#333333" stroke-width="1.3"/>
<line x1="580.4" y1="541.3" x2="580.4" y2="545.3" stroke="#333333" stroke-width="1.3"/>
<path d="M560.8,537.8L560.8,531.6M558.12,536.25L563.48,533.15M563.48,536.25L558.12,533.15" stroke="#111" stroke-width="1.45" stroke-linecap="butt"/>
<circle cx="560.8" cy="534.7" r="1.55" fill="#111"/>
<path d="M568.4,537.8L568.4,531.6M565.72,536.25L571.08,533.15M571.08,536.25L565.72,533.15" stroke="#111" stroke-width="1.45" stroke-linecap="butt"/>
<circle cx="568.4" cy="534.7" r="1.55" fill="#111"/>
<path d="M576,537.8L576,531.6M573.32,536.25L578.68,533.15M578.68,536.25L573.32,533.15" stroke="#111" stroke-width="1.45" stroke-linecap="butt"/>
<circle cx="576" cy="534.7" r="1.55" fill="#111"/>
<circle cx="119.6" cy="665.8" r="3.23" fill="#a70ae3"/>
<text x="134" y="669.5" font-size="10.5" text-anchor="start" fill="#1a1a1a" textLength="95.8" lengthAdjust="spacingAndGlyphs" stroke="#1a1a1a" stroke-width="0.25">AAV9-CAG-αCD19αCD3</text>
<polygon points="240.43,663.14 247.57,663.14 244,670.11" fill="#0000f8" stroke="#0000f8" stroke-width="0.5" stroke-linejoin="round"/>
<text x="257.7" y="669.9" font-size="10.5" text-anchor="start" fill="#1a1a1a" textLength="109.9" lengthAdjust="spacingAndGlyphs" stroke="#1a1a1a" stroke-width="0.25">AAV9-MHCK7-αCD19αCD3</text>
<rect x="379.17" y="662.97" width="6.46" height="6.46" fill="#9d0303"/>
<text x="395.7" y="669.9" font-size="10.5" text-anchor="start" fill="#1a1a1a" textLength="121.3" lengthAdjust="spacingAndGlyphs" stroke="#1a1a1a" stroke-width="0.25">AAV.eM-MHCK7-αCD19αCD3</text>
<line x1="73.8" y1="723.6" x2="73.8" y2="842.6" stroke="#333333" stroke-width="1.35"/>
<line x1="73.2" y1="842" x2="152.5" y2="842" stroke="#333333" stroke-width="1.35"/>
<line x1="69.3" y1="842" x2="73.8" y2="842" stroke="#333333" stroke-width="1.35"/>
<text x="66.8" y="845.1" font-size="8.6" text-anchor="end" fill="#222" stroke="#222" stroke-width="0.1">0</text>
<line x1="69.3" y1="812.55" x2="73.8" y2="812.55" stroke="#333333" stroke-width="1.35"/>
<text x="66.8" y="815.65" font-size="8.6" text-anchor="end" fill="#222" stroke="#222" stroke-width="0.1">20</text>
<line x1="69.3" y1="783.1" x2="73.8" y2="783.1" stroke="#333333" stroke-width="1.35"/>
<text x="66.8" y="786.2" font-size="8.6" text-anchor="end" fill="#222" stroke="#222" stroke-width="0.1">40</text>
<line x1="69.3" y1="753.65" x2="73.8" y2="753.65" stroke="#333333" stroke-width="1.35"/>
<text x="66.8" y="756.75" font-size="8.6" text-anchor="end" fill="#222" stroke="#222" stroke-width="0.1">60</text>
<line x1="69.3" y1="724.2" x2="73.8" y2="724.2" stroke="#333333" stroke-width="1.35"/>
<text x="66.8" y="727.3" font-size="8.6" text-anchor="end" fill="#222" stroke="#222" stroke-width="0.1">80</text>
<line x1="89.4" y1="842" x2="89.4" y2="846.8" stroke="#333333" stroke-width="1.35"/>
<line x1="112.8" y1="842" x2="112.8" y2="846.8" stroke="#333333" stroke-width="1.35"/>
<line x1="136.4" y1="842" x2="136.4" y2="846.8" stroke="#333333" stroke-width="1.35"/>
<text x="113.4" y="704.1" font-size="16.5" text-anchor="middle" fill="#1a1a1a" textLength="36.3" lengthAdjust="spacingAndGlyphs">Liver</text>
<text x="37.6" y="779.7" font-size="11" text-anchor="middle" fill="#1a1a1a" textLength="23.4" lengthAdjust="spacingAndGlyphs" transform="rotate(-90 37.6 779.7)" stroke="#1a1a1a" stroke-width="0.25">Ratio</text>
<text x="52.3" y="778.7" font-size="11" text-anchor="middle" fill="#1a1a1a" textLength="92.9" lengthAdjust="spacingAndGlyphs" transform="rotate(-90 52.3 778.7)" stroke="#1a1a1a" stroke-width="0.25">αCD19αCD3/GAPDH</text>
<path d="M81.8,842 V773.4 H97 V842" fill="none" stroke="#222" stroke-width="1.4"/>
<path d="M105.2,842 V837 H120.4 V842" fill="none" stroke="#222" stroke-width="1.4"/>
<line x1="89.4" y1="752.4" x2="89.4" y2="793" stroke="#a70ae3" stroke-width="1.3"/>
<line x1="85.65" y1="752.4" x2="93.15" y2="752.4" stroke="#a70ae3" stroke-width="1.3"/>
<line x1="85.65" y1="793" x2="93.15" y2="793" stroke="#a70ae3" stroke-width="1.3"/>
<circle cx="89.4" cy="742.5" r="3.28" fill="#a70ae3"/>
<circle cx="89.4" cy="781.4" r="3.28" fill="#a70ae3"/>
<circle cx="95.5" cy="777.4" r="3.28" fill="#a70ae3"/>
<circle cx="89.4" cy="791.4" r="3.28" fill="#a70ae3"/>
<polygon points="102.38,831.39 109.62,831.39 106,838.47" fill="#0000f8" stroke="#0000f8" stroke-width="0.5" stroke-linejoin="round"/>
<polygon points="106.88,830.39 114.12,830.39 110.5,837.47" fill="#0000f8" stroke="#0000f8" stroke-width="0.5" stroke-linejoin="round"/>
<polygon points="111.38,830.89 118.62,830.89 115,837.97" fill="#0000f8" stroke="#0000f8" stroke-width="0.5" stroke-linejoin="round"/>
<polygon points="115.38,831.39 122.62,831.39 119,838.47" fill="#0000f8" stroke="#0000f8" stroke-width="0.5" stroke-linejoin="round"/>
<line x1="87.3" y1="719.7" x2="138.3" y2="719.7" stroke="#333333" stroke-width="1.3"/>
<line x1="87.3" y1="717.7" x2="87.3" y2="721.7" stroke="#333333" stroke-width="1.3"/>
<line x1="138.3" y1="717.7" x2="138.3" y2="721.7" stroke="#333333" stroke-width="1.3"/>
<path d="M101.4,715.7L101.4,709.5M98.72,714.15L104.08,711.05M104.08,714.15L98.72,711.05" stroke="#111" stroke-width="1.45" stroke-linecap="butt"/>
<circle cx="101.4" cy="712.6" r="1.55" fill="#111"/>
<path d="M109,715.7L109,709.5M106.32,714.15L111.68,711.05M111.68,714.15L106.32,711.05" stroke="#111" stroke-width="1.45" stroke-linecap="butt"/>
<circle cx="109" cy="712.6" r="1.55" fill="#111"/>
<path d="M116.6,715.7L116.6,709.5M113.92,714.15L119.28,711.05M119.28,714.15L113.92,711.05" stroke="#111" stroke-width="1.45" stroke-linecap="butt"/>
<circle cx="116.6" cy="712.6" r="1.55" fill="#111"/>
<path d="M124.2,715.7L124.2,709.5M121.52,714.15L126.88,711.05M126.88,714.15L121.52,711.05" stroke="#111" stroke-width="1.45" stroke-linecap="butt"/>
<circle cx="124.2" cy="712.6" r="1.55" fill="#111"/>
<line x1="88.6" y1="737.1" x2="113.6" y2="737.1" stroke="#333333" stroke-width="1.3"/>
<line x1="88.6" y1="735.1" x2="88.6" y2="739.1" stroke="#333333" stroke-width="1.3"/>
<line x1="113.6" y1="735.1" x2="113.6" y2="739.1" stroke="#333333" stroke-width="1.3"/>
<path d="M94.4,733.3L94.4,727.1M91.72,731.75L97.08,728.65M97.08,731.75L91.72,728.65" stroke="#111" stroke-width="1.45" stroke-linecap="butt"/>
<circle cx="94.4" cy="730.2" r="1.55" fill="#111"/>
<path d="M102,733.3L102,727.1M99.32,731.75L104.68,728.65M104.68,731.75L99.32,728.65" stroke="#111" stroke-width="1.45" stroke-linecap="butt"/>
<circle cx="102" cy="730.2" r="1.55" fill="#111"/>
<path d="M109.6,733.3L109.6,727.1M106.92,731.75L112.28,728.65M112.28,731.75L106.92,728.65" stroke="#111" stroke-width="1.45" stroke-linecap="butt"/>
<circle cx="109.6" cy="730.2" r="1.55" fill="#111"/>
<path d="M128.5,842 V838.5 Q136.5,837 145,838.5 V842 Z" fill="#9d0303"/>
<line x1="220.7" y1="723.6" x2="220.7" y2="842.6" stroke="#333333" stroke-width="1.35"/>
<line x1="220.1" y1="842" x2="299.8" y2="842" stroke="#333333" stroke-width="1.35"/>
<line x1="216.2" y1="842" x2="220.7" y2="842" stroke="#333333" stroke-width="1.35"/>
<text x="213.7" y="845.1" font-size="8.6" text-anchor="end" fill="#222" stroke="#222" stroke-width="0.1">0</text>
<line x1="216.2" y1="812.55" x2="220.7" y2="812.55" stroke="#333333" stroke-width="1.35"/>
<text x="213.7" y="815.65" font-size="8.6" text-anchor="end" fill="#222" stroke="#222" stroke-width="0.1">5</text>
<line x1="216.2" y1="783.1" x2="220.7" y2="783.1" stroke="#333333" stroke-width="1.35"/>
<text x="213.7" y="786.2" font-size="8.6" text-anchor="end" fill="#222" stroke="#222" stroke-width="0.1">10</text>
<line x1="216.2" y1="753.65" x2="220.7" y2="753.65" stroke="#333333" stroke-width="1.35"/>
<text x="213.7" y="756.75" font-size="8.6" text-anchor="end" fill="#222" stroke="#222" stroke-width="0.1">15</text>
<line x1="216.2" y1="724.2" x2="220.7" y2="724.2" stroke="#333333" stroke-width="1.35"/>
<text x="213.7" y="727.3" font-size="8.6" text-anchor="end" fill="#222" stroke="#222" stroke-width="0.1">20</text>
<line x1="236.3" y1="842" x2="236.3" y2="846.8" stroke="#333333" stroke-width="1.35"/>
<line x1="260" y1="842" x2="260" y2="846.8" stroke="#333333" stroke-width="1.35"/>
<line x1="283.3" y1="842" x2="283.3" y2="846.8" stroke="#333333" stroke-width="1.35"/>
<text x="260.2" y="704.2" font-size="16.5" text-anchor="middle" fill="#1a1a1a" textLength="41.3" lengthAdjust="spacingAndGlyphs">Heart</text>
<text x="185.8" y="779.7" font-size="11" text-anchor="middle" fill="#1a1a1a" textLength="23.4" lengthAdjust="spacingAndGlyphs" transform="rotate(-90 185.8 779.7)" stroke="#1a1a1a" stroke-width="0.25">Ratio</text>
<text x="201.4" y="778.7" font-size="11" text-anchor="middle" fill="#1a1a1a" textLength="92.9" lengthAdjust="spacingAndGlyphs" transform="rotate(-90 201.4 778.7)" stroke="#1a1a1a" stroke-width="0.25">αCD19αCD3/GAPDH</text>
<path d="M228.7,842 V836.5 H243.9 V842" fill="none" stroke="#222" stroke-width="1.4"/>
<path d="M252.4,842 V837 H267.6 V842" fill="none" stroke="#222" stroke-width="1.4"/>
<path d="M275.7,842 V782.9 H290.9 V842" fill="none" stroke="#222" stroke-width="1.4"/>
<line x1="283.3" y1="767.3" x2="283.3" y2="798.2" stroke="#9d0303" stroke-width="1.3"/>
<line x1="279.55" y1="767.3" x2="287.05" y2="767.3" stroke="#9d0303" stroke-width="1.3"/>
<line x1="279.55" y1="798.2" x2="287.05" y2="798.2" stroke="#9d0303" stroke-width="1.3"/>
<circle cx="231.5" cy="835.8" r="3.28" fill="#a70ae3"/>
<circle cx="236.3" cy="835.5" r="3.28" fill="#a70ae3"/>
<circle cx="241" cy="835.8" r="3.28" fill="#a70ae3"/>
<polygon points="250.88,831.89 258.12,831.89 254.5,838.97" fill="#0000f8" stroke="#0000f8" stroke-width="0.5" stroke-linejoin="round"/>
<polygon points="256.38,830.89 263.62,830.89 260,837.97" fill="#0000f8" stroke="#0000f8" stroke-width="0.5" stroke-linejoin="round"/>
<polygon points="261.38,831.89 268.62,831.89 265,838.97" fill="#0000f8" stroke="#0000f8" stroke-width="0.5" stroke-linejoin="round"/>
<rect x="280.42" y="767.12" width="6.55" height="6.55" fill="#9d0303"/>
<rect x="286.32" y="770.62" width="6.55" height="6.55" fill="#9d0303"/>
<rect x="280.42" y="776.52" width="6.55" height="6.55" fill="#9d0303"/>
<rect x="280.42" y="801.72" width="6.55" height="6.55" fill="#9d0303"/>
<line x1="234.4" y1="735.6" x2="285.6" y2="735.6" stroke="#333333" stroke-width="1.3"/>
<line x1="234.4" y1="733.6" x2="234.4" y2="737.6" stroke="#333333" stroke-width="1.3"/>
<line x1="285.6" y1="733.6" x2="285.6" y2="737.6" stroke="#333333" stroke-width="1.3"/>
<path d="M249.4,731L249.4,724.8M246.72,729.45L252.08,726.35M252.08,729.45L246.72,726.35" stroke="#111" stroke-width="1.45" stroke-linecap="butt"/>
<circle cx="249.4" cy="727.9" r="1.55" fill="#111"/>
<path d="M257,731L257,724.8M254.32,729.45L259.68,726.35M259.68,729.45L254.32,726.35" stroke="#111" stroke-width="1.45" stroke-linecap="butt"/>
<circle cx="257" cy="727.9" r="1.55" fill="#111"/>
<path d="M264.6,731L264.6,724.8M261.92,729.45L267.28,726.35M267.28,729.45L261.92,726.35" stroke="#111" stroke-width="1.45" stroke-linecap="butt"/>
<circle cx="264.6" cy="727.9" r="1.55" fill="#111"/>
<path d="M272.2,731L272.2,724.8M269.52,729.45L274.88,726.35M274.88,729.45L269.52,726.35" stroke="#111" stroke-width="1.45" stroke-linecap="butt"/>
<circle cx="272.2" cy="727.9" r="1.55" fill="#111"/>
<line x1="260.8" y1="756.4" x2="285.6" y2="756.4" stroke="#333333" stroke-width="1.3"/>
<line x1="260.8" y1="754.4" x2="260.8" y2="758.4" stroke="#333333" stroke-width="1.3"/>
<line x1="285.6" y1="754.4" x2="285.6" y2="758.4" stroke="#333333" stroke-width="1.3"/>
<path d="M262.4,751.6L262.4,745.4M259.72,750.05L265.08,746.95M265.08,750.05L259.72,746.95" stroke="#111" stroke-width="1.45" stroke-linecap="butt"/>
<circle cx="262.4" cy="748.5" r="1.55" fill="#111"/>
<path d="M270,751.6L270,745.4M267.32,750.05L272.68,746.95M272.68,750.05L267.32,746.95" stroke="#111" stroke-width="1.45" stroke-linecap="butt"/>
<circle cx="270" cy="748.5" r="1.55" fill="#111"/>
<path d="M277.6,751.6L277.6,745.4M274.92,750.05L280.28,746.95M280.28,750.05L274.92,746.95" stroke="#111" stroke-width="1.45" stroke-linecap="butt"/>
<circle cx="277.6" cy="748.5" r="1.55" fill="#111"/>
<path d="M285.2,751.6L285.2,745.4M282.52,750.05L287.88,746.95M287.88,750.05L282.52,746.95" stroke="#111" stroke-width="1.45" stroke-linecap="butt"/>
<circle cx="285.2" cy="748.5" r="1.55" fill="#111"/>
<line x1="367.5" y1="723.6" x2="367.5" y2="842.6" stroke="#333333" stroke-width="1.35"/>
<line x1="366.9" y1="842" x2="447" y2="842" stroke="#333333" stroke-width="1.35"/>
<line x1="363" y1="842" x2="367.5" y2="842" stroke="#333333" stroke-width="1.35"/>
<text x="360.5" y="845.1" font-size="8.6" text-anchor="end" fill="#222" stroke="#222" stroke-width="0.1">0</text>
<line x1="363" y1="812.55" x2="367.5" y2="812.55" stroke="#333333" stroke-width="1.35"/>
<text x="360.5" y="815.65" font-size="8.6" text-anchor="end" fill="#222" stroke="#222" stroke-width="0.1">5</text>
<line x1="363" y1="783.1" x2="367.5" y2="783.1" stroke="#333333" stroke-width="1.35"/>
<text x="360.5" y="786.2" font-size="8.6" text-anchor="end" fill="#222" stroke="#222" stroke-width="0.1">10</text>
<line x1="363" y1="753.65" x2="367.5" y2="753.65" stroke="#333333" stroke-width="1.35"/>
<text x="360.5" y="756.75" font-size="8.6" text-anchor="end" fill="#222" stroke="#222" stroke-width="0.1">15</text>
<line x1="363" y1="724.2" x2="367.5" y2="724.2" stroke="#333333" stroke-width="1.35"/>
<text x="360.5" y="727.3" font-size="8.6" text-anchor="end" fill="#222" stroke="#222" stroke-width="0.1">20</text>
<line x1="383.25" y1="842" x2="383.25" y2="846.8" stroke="#333333" stroke-width="1.35"/>
<line x1="407" y1="842" x2="407" y2="846.8" stroke="#333333" stroke-width="1.35"/>
<line x1="430.75" y1="842" x2="430.75" y2="846.8" stroke="#333333" stroke-width="1.35"/>
<text x="407.5" y="703.75" font-size="16.5" text-anchor="middle" fill="#1a1a1a" textLength="85" lengthAdjust="spacingAndGlyphs">Quadriceps</text>
<text x="331" y="779.2" font-size="11" text-anchor="middle" fill="#1a1a1a" textLength="24.8" lengthAdjust="spacingAndGlyphs" transform="rotate(-90 331 779.2)" stroke="#1a1a1a" stroke-width="0.25">Ratio</text>
<text x="346.3" y="778.7" font-size="11" text-anchor="middle" fill="#1a1a1a" textLength="92.1" lengthAdjust="spacingAndGlyphs" transform="rotate(-90 346.3 778.7)" stroke="#1a1a1a" stroke-width="0.25">αCD19αCD3/GAPDH</text>
<path d="M375.65,842 V833.25 H390.85 V842" fill="none" stroke="#222" stroke-width="1.4"/>
<path d="M399.4,842 V837 H414.6 V842" fill="none" stroke="#222" stroke-width="1.4"/>
<path d="M423.15,842 V788.75 H438.35 V842" fill="none" stroke="#222" stroke-width="1.4"/>
<line x1="383.25" y1="822" x2="383.25" y2="842" stroke="#a70ae3" stroke-width="1.3"/>
<line x1="379.5" y1="822" x2="387" y2="822" stroke="#a70ae3" stroke-width="1.3"/>
<line x1="379.5" y1="842" x2="387" y2="842" stroke="#a70ae3" stroke-width="1.3"/>
<line x1="407" y1="830" x2="407" y2="842" stroke="#0000f8" stroke-width="1.3"/>
<line x1="403.25" y1="830" x2="410.75" y2="830" stroke="#0000f8" stroke-width="1.3"/>
<line x1="403.25" y1="842" x2="410.75" y2="842" stroke="#0000f8" stroke-width="1.3"/>
<line x1="430.75" y1="778" x2="430.75" y2="800" stroke="#9d0303" stroke-width="1.3"/>
<line x1="427" y1="778" x2="434.5" y2="778" stroke="#9d0303" stroke-width="1.3"/>
<line x1="427" y1="800" x2="434.5" y2="800" stroke="#9d0303" stroke-width="1.3"/>
<circle cx="383.75" cy="817" r="3.28" fill="#a70ae3"/>
<circle cx="379" cy="837.5" r="3.28" fill="#a70ae3"/>
<circle cx="383.5" cy="838" r="3.28" fill="#a70ae3"/>
<circle cx="388" cy="837.5" r="3.28" fill="#a70ae3"/>
<polygon points="403.88,823.14 411.12,823.14 407.5,830.22" fill="#0000f8" stroke="#0000f8" stroke-width="0.5" stroke-linejoin="round"/>
<polygon points="398.88,834.39 406.12,834.39 402.5,841.47" fill="#0000f8" stroke="#0000f8" stroke-width="0.5" stroke-linejoin="round"/>
<polygon points="403.38,834.89 410.62,834.89 407,841.97" fill="#0000f8" stroke="#0000f8" stroke-width="0.5" stroke-linejoin="round"/>
<polygon points="407.88,834.39 415.12,834.39 411.5,841.47" fill="#0000f8" stroke="#0000f8" stroke-width="0.5" stroke-linejoin="round"/>
<rect x="427.47" y="766.22" width="6.55" height="6.55" fill="#9d0303"/>
<rect x="427.47" y="778.72" width="6.55" height="6.55" fill="#9d0303"/>
<rect x="427.47" y="793.72" width="6.55" height="6.55" fill="#9d0303"/>
<rect x="427.47" y="803.72" width="6.55" height="6.55" fill="#9d0303"/>
<line x1="381.25" y1="729.5" x2="432.5" y2="729.5" stroke="#333333" stroke-width="1.3"/>
<line x1="381.25" y1="727.5" x2="381.25" y2="731.5" stroke="#333333" stroke-width="1.3"/>
<line x1="432.5" y1="727.5" x2="432.5" y2="731.5" stroke="#333333" stroke-width="1.3"/>
<path d="M403.2,724.7L403.2,718.5M400.52,723.15L405.88,720.05M405.88,723.15L400.52,720.05" stroke="#111" stroke-width="1.45" stroke-linecap="butt"/>
<circle cx="403.2" cy="721.6" r="1.55" fill="#111"/>
<path d="M410.8,724.7L410.8,718.5M408.12,723.15L413.48,720.05M413.48,723.15L408.12,720.05" stroke="#111" stroke-width="1.45" stroke-linecap="butt"/>
<circle cx="410.8" cy="721.6" r="1.55" fill="#111"/>
<line x1="408" y1="750.75" x2="432.5" y2="750.75" stroke="#333333" stroke-width="1.3"/>
<line x1="408" y1="748.75" x2="408" y2="752.75" stroke="#333333" stroke-width="1.3"/>
<line x1="432.5" y1="748.75" x2="432.5" y2="752.75" stroke="#333333" stroke-width="1.3"/>
<path d="M412.7,746.3L412.7,740.1M410.02,744.75L415.38,741.65M415.38,744.75L410.02,741.65" stroke="#111" stroke-width="1.45" stroke-linecap="butt"/>
<circle cx="412.7" cy="743.2" r="1.55" fill="#111"/>
<path d="M420.3,746.3L420.3,740.1M417.62,744.75L422.98,741.65M422.98,744.75L417.62,741.65" stroke="#111" stroke-width="1.45" stroke-linecap="butt"/>
<circle cx="420.3" cy="743.2" r="1.55" fill="#111"/>
<path d="M427.9,746.3L427.9,740.1M425.22,744.75L430.58,741.65M430.58,744.75L425.22,741.65" stroke="#111" stroke-width="1.45" stroke-linecap="butt"/>
<circle cx="427.9" cy="743.2" r="1.55" fill="#111"/>
<line x1="515.5" y1="723.6" x2="515.5" y2="842.6" stroke="#333333" stroke-width="1.35"/>
<line x1="514.9" y1="842" x2="593.75" y2="842" stroke="#333333" stroke-width="1.35"/>
<line x1="511" y1="842" x2="515.5" y2="842" stroke="#333333" stroke-width="1.35"/>
<text x="508.5" y="845.1" font-size="8.6" text-anchor="end" fill="#222" stroke="#222" stroke-width="0.1">0</text>
<line x1="511" y1="802.73" x2="515.5" y2="802.73" stroke="#333333" stroke-width="1.35"/>
<text x="508.5" y="805.83" font-size="8.6" text-anchor="end" fill="#222" stroke="#222" stroke-width="0.1">10</text>
<line x1="511" y1="763.47" x2="515.5" y2="763.47" stroke="#333333" stroke-width="1.35"/>
<text x="508.5" y="766.57" font-size="8.6" text-anchor="end" fill="#222" stroke="#222" stroke-width="0.1">20</text>
<line x1="511" y1="724.2" x2="515.5" y2="724.2" stroke="#333333" stroke-width="1.35"/>
<text x="508.5" y="727.3" font-size="8.6" text-anchor="end" fill="#222" stroke="#222" stroke-width="0.1">30</text>
<line x1="532" y1="842" x2="532" y2="846.8" stroke="#333333" stroke-width="1.35"/>
<line x1="555.75" y1="842" x2="555.75" y2="846.8" stroke="#333333" stroke-width="1.35"/>
<line x1="578.75" y1="842" x2="578.75" y2="846.8" stroke="#333333" stroke-width="1.35"/>
<text x="556.25" y="703.75" font-size="16.5" text-anchor="middle" fill="#1a1a1a" textLength="52.5" lengthAdjust="spacingAndGlyphs">Triceps</text>
<text x="480.25" y="778.7" font-size="11" text-anchor="middle" fill="#1a1a1a" textLength="25" lengthAdjust="spacingAndGlyphs" transform="rotate(-90 480.25 778.7)" stroke="#1a1a1a" stroke-width="0.25">Ratio</text>
<text x="494.5" y="778.2" font-size="11" text-anchor="middle" fill="#1a1a1a" textLength="92.5" lengthAdjust="spacingAndGlyphs" transform="rotate(-90 494.5 778.2)" stroke="#1a1a1a" stroke-width="0.25">αCD19αCD3/GAPDH</text>
<path d="M524.4,842 V838.5 H539.6 V842" fill="none" stroke="#222" stroke-width="1.4"/>
<path d="M548.15,842 V840.5 H563.35 V842" fill="none" stroke="#222" stroke-width="1.4"/>
<path d="M571.15,842 V796.75 H586.35 V842" fill="none" stroke="#222" stroke-width="1.4"/>
<line x1="578.75" y1="752.5" x2="578.75" y2="839.5" stroke="#9d0303" stroke-width="1.3"/>
<line x1="575" y1="752.5" x2="582.5" y2="752.5" stroke="#9d0303" stroke-width="1.3"/>
<line x1="575" y1="839.5" x2="582.5" y2="839.5" stroke="#9d0303" stroke-width="1.3"/>
<circle cx="532" cy="832.5" r="3.28" fill="#a70ae3"/>
<circle cx="527.5" cy="838" r="3.28" fill="#a70ae3"/>
<circle cx="532" cy="838.5" r="3.28" fill="#a70ae3"/>
<circle cx="536.5" cy="838" r="3.28" fill="#a70ae3"/>
<polygon points="547.38,836.89 554.62,836.89 551,843.97" fill="#0000f8" stroke="#0000f8" stroke-width="0.5" stroke-linejoin="round"/>
<polygon points="552.13,836.89 559.37,836.89 555.75,843.97" fill="#0000f8" stroke="#0000f8" stroke-width="0.5" stroke-linejoin="round"/>
<polygon points="556.88,836.89 564.12,836.89 560.5,843.97" fill="#0000f8" stroke="#0000f8" stroke-width="0.5" stroke-linejoin="round"/>
<rect x="575.47" y="731.72" width="6.55" height="6.55" fill="#9d0303"/>
<rect x="575.47" y="794.72" width="6.55" height="6.55" fill="#9d0303"/>
<rect x="570.47" y="822.97" width="6.55" height="6.55" fill="#9d0303"/>
<rect x="580.47" y="822.22" width="6.55" height="6.55" fill="#9d0303"/>
<circle cx="119.5" cy="865.5" r="3.23" fill="#a70ae3"/>
<text x="133.5" y="869.2" font-size="10.5" text-anchor="start" fill="#1a1a1a" textLength="96.6" lengthAdjust="spacingAndGlyphs" stroke="#1a1a1a" stroke-width="0.25">AAV9-CAG-αCD19αCD3</text>
<polygon points="240.73,862.44 247.87,862.44 244.3,869.41" fill="#0000f8" stroke="#0000f8" stroke-width="0.5" stroke-linejoin="round"/>
<text x="258" y="869.2" font-size="10.5" text-anchor="start" fill="#1a1a1a" textLength="109.1" lengthAdjust="spacingAndGlyphs" stroke="#1a1a1a" stroke-width="0.25">AAV9-MHCK7-αCD19αCD3</text>
<rect x="379.27" y="861.97" width="6.46" height="6.46" fill="#9d0303"/>
<text x="396.25" y="868.9" font-size="10.5" text-anchor="start" fill="#1a1a1a" textLength="120" lengthAdjust="spacingAndGlyphs" stroke="#1a1a1a" stroke-width="0.25">AAV.eM-MHCK7-αCD19αCD3</text>
<text x="734.4" y="493.3" font-size="11.5" text-anchor="middle" fill="#1a1a1a" textLength="60.4" lengthAdjust="spacingAndGlyphs" stroke="#1a1a1a" stroke-width="0.25">AAV9-CAG</text>
<text x="734.4" y="510" font-size="11.5" text-anchor="middle" fill="#1a1a1a" textLength="70.9" lengthAdjust="spacingAndGlyphs" stroke="#1a1a1a" stroke-width="0.25">-αCD19αCD3</text>
<path d="M686.5,519.2 V515.9 H784.3 V519.2" fill="none" stroke="#4d4343" stroke-width="1.1"/>
<text x="838.1" y="493.3" font-size="11.5" text-anchor="middle" fill="#1a1a1a" textLength="77.9" lengthAdjust="spacingAndGlyphs" stroke="#1a1a1a" stroke-width="0.25">AAV9-MHCK7</text>
<text x="838.1" y="510" font-size="11.5" text-anchor="middle" fill="#1a1a1a" textLength="71.2" lengthAdjust="spacingAndGlyphs" stroke="#1a1a1a" stroke-width="0.25">-αCD19αCD3</text>
<path d="M789,519.2 V515.9 H886.5 V519.2" fill="none" stroke="#4d4343" stroke-width="1.1"/>
<text x="941.8" y="493.3" font-size="11.5" text-anchor="middle" fill="#1a1a1a" textLength="92.7" lengthAdjust="spacingAndGlyphs" stroke="#1a1a1a" stroke-width="0.25">AAV.eM-MHCK7</text>
<text x="941.8" y="510" font-size="11.5" text-anchor="middle" fill="#1a1a1a" textLength="70.9" lengthAdjust="spacingAndGlyphs" stroke="#1a1a1a" stroke-width="0.25">-αCD19αCD3</text>
<path d="M891,519.2 V515.9 H989 V519.2" fill="none" stroke="#4d4343" stroke-width="1.1"/>
<text x="691.3" y="532.7" font-size="10.5" text-anchor="middle" fill="#1a1a1a" stroke="#1a1a1a" stroke-width="0.25">1</text>
<text x="718.5" y="532.7" font-size="10.5" text-anchor="middle" fill="#1a1a1a" stroke="#1a1a1a" stroke-width="0.25">2</text>
<text x="744.6" y="532.7" font-size="10.5" text-anchor="middle" fill="#1a1a1a" stroke="#1a1a1a" stroke-width="0.25">3</text>
<text x="770.4" y="532.7" font-size="10.5" text-anchor="middle" fill="#1a1a1a" stroke="#1a1a1a" stroke-width="0.25">4</text>
<text x="799.1" y="532.7" font-size="10.5" text-anchor="middle" fill="#1a1a1a" stroke="#1a1a1a" stroke-width="0.25">1</text>
<text x="826.7" y="532.7" font-size="10.5" text-anchor="middle" fill="#1a1a1a" stroke="#1a1a1a" stroke-width="0.25">2</text>
<text x="852.4" y="532.7" font-size="10.5" text-anchor="middle" fill="#1a1a1a" stroke="#1a1a1a" stroke-width="0.25">3</text>
<text x="878.5" y="532.7" font-size="10.5" text-anchor="middle" fill="#1a1a1a" stroke="#1a1a1a" stroke-width="0.25">4</text>
<text x="903.7" y="532.7" font-size="10.5" text-anchor="middle" fill="#1a1a1a" stroke="#1a1a1a" stroke-width="0.25">1</text>
<text x="931.3" y="532.7" font-size="10.5" text-anchor="middle" fill="#1a1a1a" stroke="#1a1a1a" stroke-width="0.25">2</text>
<text x="957" y="532.7" font-size="10.5" text-anchor="middle" fill="#1a1a1a" stroke="#1a1a1a" stroke-width="0.25">3</text>
<text x="982.8" y="532.7" font-size="10.5" text-anchor="middle" fill="#1a1a1a" stroke="#1a1a1a" stroke-width="0.25">4</text>
<rect x="680.3" y="540.5" width="318.3" height="36.5" fill="url(#gbg)" stroke="#4d4343" stroke-width="1.2"/>
<rect x="680.3" y="584" width="318.3" height="30.4" fill="url(#gbg2)" stroke="#4d4343" stroke-width="1.2"/>
<path d="M641.5,540.5 H637 V614.4 H641.5" fill="none" stroke="#4d4343" stroke-width="1.1"/>
<text x="627.5" y="577.45" font-size="12" text-anchor="middle" fill="#1a1a1a" transform="rotate(-90 627.5 577.45)" stroke="#1a1a1a" stroke-width="0.25">Triceps</text>
<line x1="676" y1="544.5" x2="680.3" y2="544.5" stroke="#4d4343" stroke-width="1.1"/>
<text x="673" y="548.1" font-size="10" text-anchor="end" fill="#1a1a1a" textLength="32.5" lengthAdjust="spacingAndGlyphs" stroke="#1a1a1a" stroke-width="0.25">70kDa</text>
<line x1="676" y1="591" x2="680.3" y2="591" stroke="#4d4343" stroke-width="1.1"/>
<text x="673" y="594.6" font-size="10" text-anchor="end" fill="#1a1a1a" textLength="32.5" lengthAdjust="spacingAndGlyphs" stroke="#1a1a1a" stroke-width="0.25">40kDa</text>
<line x1="998.6" y1="559.5" x2="1005.6" y2="559.5" stroke="#4d4343" stroke-width="1.1"/>
<text x="1008.3" y="553.7" font-size="12.5" text-anchor="start" fill="#1a1a1a" textLength="60" lengthAdjust="spacingAndGlyphs" stroke="#1a1a1a" stroke-width="0.25">His-tagged</text>
<text x="1008.3" y="571.7" font-size="12.5" text-anchor="start" fill="#1a1a1a" textLength="66" lengthAdjust="spacingAndGlyphs" stroke="#1a1a1a" stroke-width="0.25">αCD19αCD3</text>
<line x1="998.6" y1="599" x2="1005.6" y2="599" stroke="#4d4343" stroke-width="1.1"/>
<text x="1007.3" y="601.7" font-size="14" text-anchor="start" fill="#111" textLength="49.7" lengthAdjust="spacingAndGlyphs">GAPDH</text>
<rect x="680.3" y="624.3" width="318.3" height="36.5" fill="url(#gbg)" stroke="#4d4343" stroke-width="1.2"/>
<rect x="680.3" y="667.8" width="318.3" height="30.4" fill="url(#gbg2)" stroke="#4d4343" stroke-width="1.2"/>
<path d="M641.5,624.3 H637 V698.2 H641.5" fill="none" stroke="#4d4343" stroke-width="1.1"/>
<text x="627.5" y="661.25" font-size="12" text-anchor="middle" fill="#1a1a1a" transform="rotate(-90 627.5 661.25)" stroke="#1a1a1a" stroke-width="0.25">Quadriceps</text>
<line x1="676" y1="628.3" x2="680.3" y2="628.3" stroke="#4d4343" stroke-width="1.1"/>
<text x="673" y="631.9" font-size="10" text-anchor="end" fill="#1a1a1a" textLength="32.5" lengthAdjust="spacingAndGlyphs" stroke="#1a1a1a" stroke-width="0.25">70kDa</text>
<line x1="676" y1="674.8" x2="680.3" y2="674.8" stroke="#4d4343" stroke-width="1.1"/>
<text x="673" y="678.4" font-size="10" text-anchor="end" fill="#1a1a1a" textLength="32.5" lengthAdjust="spacingAndGlyphs" stroke="#1a1a1a" stroke-width="0.25">40kDa</text>
<line x1="998.6" y1="643.3" x2="1005.6" y2="643.3" stroke="#4d4343" stroke-width="1.1"/>
<text x="1008.3" y="637.5" font-size="12.5" text-anchor="start" fill="#1a1a1a" textLength="60" lengthAdjust="spacingAndGlyphs" stroke="#1a1a1a" stroke-width="0.25">His-tagged</text>
<text x="1008.3" y="655.5" font-size="12.5" text-anchor="start" fill="#1a1a1a" textLength="66" lengthAdjust="spacingAndGlyphs" stroke="#1a1a1a" stroke-width="0.25">αCD19αCD3</text>
<line x1="998.6" y1="682.8" x2="1005.6" y2="682.8" stroke="#4d4343" stroke-width="1.1"/>
<text x="1007.3" y="685.5" font-size="14" text-anchor="start" fill="#111" textLength="49.7" lengthAdjust="spacingAndGlyphs">GAPDH</text>
<rect x="680.3" y="708.4" width="318.3" height="36.5" fill="url(#gbg)" stroke="#4d4343" stroke-width="1.2"/>
<rect x="680.3" y="751.9" width="318.3" height="30.4" fill="url(#gbg2)" stroke="#4d4343" stroke-width="1.2"/>
<path d="M641.5,708.4 H637 V782.3 H641.5" fill="none" stroke="#4d4343" stroke-width="1.1"/>
<text x="627.5" y="745.35" font-size="12" text-anchor="middle" fill="#1a1a1a" transform="rotate(-90 627.5 745.35)" stroke="#1a1a1a" stroke-width="0.25">Heart</text>
<line x1="676" y1="712.4" x2="680.3" y2="712.4" stroke="#4d4343" stroke-width="1.1"/>
<text x="673" y="716" font-size="10" text-anchor="end" fill="#1a1a1a" textLength="32.5" lengthAdjust="spacingAndGlyphs" stroke="#1a1a1a" stroke-width="0.25">70kDa</text>
<line x1="676" y1="758.9" x2="680.3" y2="758.9" stroke="#4d4343" stroke-width="1.1"/>
<text x="673" y="762.5" font-size="10" text-anchor="end" fill="#1a1a1a" textLength="32.5" lengthAdjust="spacingAndGlyphs" stroke="#1a1a1a" stroke-width="0.25">40kDa</text>
<line x1="998.6" y1="727.4" x2="1005.6" y2="727.4" stroke="#4d4343" stroke-width="1.1"/>
<text x="1008.3" y="721.6" font-size="12.5" text-anchor="start" fill="#1a1a1a" textLength="60" lengthAdjust="spacingAndGlyphs" stroke="#1a1a1a" stroke-width="0.25">His-tagged</text>
<text x="1008.3" y="739.6" font-size="12.5" text-anchor="start" fill="#1a1a1a" textLength="66" lengthAdjust="spacingAndGlyphs" stroke="#1a1a1a" stroke-width="0.25">αCD19αCD3</text>
<line x1="998.6" y1="766.9" x2="1005.6" y2="766.9" stroke="#4d4343" stroke-width="1.1"/>
<text x="1007.3" y="764" font-size="14" text-anchor="start" fill="#111" textLength="49.7" lengthAdjust="spacingAndGlyphs">GAPDH</text>
<rect x="680.3" y="792.2" width="318.3" height="36.5" fill="url(#gbg)" stroke="#4d4343" stroke-width="1.2"/>
<rect x="680.3" y="835.7" width="318.3" height="30.4" fill="url(#gbg2)" stroke="#4d4343" stroke-width="1.2"/>
<path d="M641.5,792.2 H637 V866.1 H641.5" fill="none" stroke="#4d4343" stroke-width="1.1"/>
<text x="627.5" y="829.15" font-size="12" text-anchor="middle" fill="#1a1a1a" transform="rotate(-90 627.5 829.15)" stroke="#1a1a1a" stroke-width="0.25">Liver</text>
<line x1="676" y1="796.2" x2="680.3" y2="796.2" stroke="#4d4343" stroke-width="1.1"/>
<text x="673" y="799.8" font-size="10" text-anchor="end" fill="#1a1a1a" textLength="32.5" lengthAdjust="spacingAndGlyphs" stroke="#1a1a1a" stroke-width="0.25">70kDa</text>
<line x1="676" y1="842.7" x2="680.3" y2="842.7" stroke="#4d4343" stroke-width="1.1"/>
<text x="673" y="846.3" font-size="10" text-anchor="end" fill="#1a1a1a" textLength="32.5" lengthAdjust="spacingAndGlyphs" stroke="#1a1a1a" stroke-width="0.25">40kDa</text>
<line x1="998.6" y1="811.2" x2="1005.6" y2="811.2" stroke="#4d4343" stroke-width="1.1"/>
<text x="1008.3" y="805.4" font-size="12.5" text-anchor="start" fill="#1a1a1a" textLength="60" lengthAdjust="spacingAndGlyphs" stroke="#1a1a1a" stroke-width="0.25">His-tagged</text>
<text x="1008.3" y="823.4" font-size="12.5" text-anchor="start" fill="#1a1a1a" textLength="66" lengthAdjust="spacingAndGlyphs" stroke="#1a1a1a" stroke-width="0.25">αCD19αCD3</text>
<line x1="998.6" y1="850.7" x2="1005.6" y2="850.7" stroke="#4d4343" stroke-width="1.1"/>
<text x="1006.3" y="856.3" font-size="12.5" text-anchor="start" fill="#111" textLength="42" lengthAdjust="spacingAndGlyphs" stroke="#111" stroke-width="0.25">GAPDH</text>
<g filter="url(#cf)" opacity="0.8"><rect x="995.5" y="541" width="3" height="9" rx="1.2" fill="#000"/></g>
<g filter="url(#cf)" opacity="0.6"><rect x="995.5" y="625" width="3" height="8" rx="1.2" fill="#000"/></g>
<g filter="url(#cf)" opacity="0.75"><rect x="995.5" y="793" width="3" height="14" rx="1.2" fill="#000"/></g>
<g filter="url(#cf)" opacity="0.45"><rect x="681" y="797" width="2.5" height="14" rx="1.2" fill="#000"/></g>
<g filter="url(#cf)" opacity="0.3"><rect x="681" y="625.5" width="2.5" height="8" rx="1.2" fill="#000"/></g>
<g filter="url(#hb)" opacity="0.28"><rect transform="translate(693.6 600.7) skewY(-4)" x="-12" y="-6.5" width="24" height="16" rx="4" fill="#000"/></g>
<g filter="url(#cb)" opacity="1"><rect transform="translate(693.6 600.7) skewY(-4)" x="-11" y="-4.5" width="22" height="9" rx="3.5" fill="#000"/></g>
<g filter="url(#hb)" opacity="0.28"><rect transform="translate(719.8 599) skewY(-3)" x="-11.75" y="-7" width="23.5" height="17" rx="4" fill="#000"/></g>
<g filter="url(#cb)" opacity="1"><rect transform="translate(719.8 599) skewY(-3)" x="-10.75" y="-5" width="21.5" height="10" rx="3.5" fill="#000"/></g>
<g filter="url(#hb)" opacity="0.28"><rect transform="translate(747.2 597.6) skewY(-2)" x="-11.5" y="-6.25" width="23" height="15.5" rx="4" fill="#000"/></g>
<g filter="url(#cb)" opacity="1"><rect transform="translate(747.2 597.6) skewY(-2)" x="-10.5" y="-4.25" width="21" height="8.5" rx="3.5" fill="#000"/></g>
<g filter="url(#hb)" opacity="0.28"><rect transform="translate(773.3 596.2) skewY(-1)" x="-11" y="-5.75" width="22" height="14.5" rx="4" fill="#000"/></g>
<g filter="url(#cb)" opacity="1"><rect transform="translate(773.3 596.2) skewY(-1)" x="-10" y="-3.75" width="20" height="7.5" rx="3.5" fill="#000"/></g>
<g filter="url(#hb)" opacity="0.28"><rect transform="translate(799.2 597.2) skewY(0)" x="-11.75" y="-7.25" width="23.5" height="17.5" rx="4" fill="#000"/></g>
<g filter="url(#cb)" opacity="1"><rect transform="translate(799.2 597.2) skewY(0)" x="-10.75" y="-5.25" width="21.5" height="10.5" rx="3.5" fill="#000"/></g>
<g filter="url(#hb)" opacity="0.28"><rect transform="translate(825 596.2) skewY(0)" x="-11.5" y="-6.5" width="23" height="16" rx="4" fill="#000"/></g>
<g filter="url(#cb)" opacity="1"><rect transform="translate(825 596.2) skewY(0)" x="-10.5" y="-4.5" width="21" height="9" rx="3.5" fill="#000"/></g>
<g filter="url(#hb)" opacity="0.28"><rect transform="translate(851.5 596.5) skewY(0)" x="-11.5" y="-7" width="23" height="17" rx="4" fill="#000"/></g>
<g filter="url(#cb)" opacity="1"><rect transform="translate(851.5 596.5) skewY(0)" x="-10.5" y="-5" width="21" height="10" rx="3.5" fill="#000"/></g>
<g filter="url(#hb)" opacity="0.28"><rect transform="translate(877.7 596.8) skewY(0)" x="-11.5" y="-8" width="23" height="19" rx="4" fill="#000"/></g>
<g filter="url(#cb)" opacity="1"><rect transform="translate(877.7 596.8) skewY(0)" x="-10.5" y="-6" width="21" height="12" rx="3.5" fill="#000"/></g>
<g filter="url(#hb)" opacity="0.28"><rect transform="translate(903.6 596.7) skewY(0)" x="-11.75" y="-7.5" width="23.5" height="18" rx="4" fill="#000"/></g>
<g filter="url(#cb)" opacity="1"><rect transform="translate(903.6 596.7) skewY(0)" x="-10.75" y="-5.5" width="21.5" height="11" rx="3.5" fill="#000"/></g>
<g filter="url(#hb)" opacity="0.28"><rect transform="translate(930.2 597.2) skewY(2)" x="-12" y="-7.75" width="24" height="18.5" rx="4" fill="#000"/></g>
<g filter="url(#cb)" opacity="1"><rect transform="translate(930.2 597.2) skewY(2)" x="-11" y="-5.75" width="22" height="11.5" rx="3.5" fill="#000"/></g>
<g filter="url(#hb)" opacity="0.28"><rect transform="translate(956.8 598.5) skewY(3)" x="-11.75" y="-6.75" width="23.5" height="16.5" rx="4" fill="#000"/></g>
<g filter="url(#cb)" opacity="1"><rect transform="translate(956.8 598.5) skewY(3)" x="-10.75" y="-4.75" width="21.5" height="9.5" rx="3.5" fill="#000"/></g>
<g filter="url(#hb)" opacity="0.28"><rect transform="translate(983.8 599.2) skewY(2)" x="-13" y="-7.75" width="26" height="18.5" rx="4" fill="#000"/></g>
<g filter="url(#cb)" opacity="1"><rect transform="translate(983.8 599.2) skewY(2)" x="-12" y="-5.75" width="24" height="11.5" rx="3.5" fill="#000"/></g>
<g filter="url(#hb)" opacity="0.28"><rect transform="translate(696.7 683.3) skewY(-3)" x="-12.25" y="-6.75" width="24.5" height="16.5" rx="4" fill="#000"/></g>
<g filter="url(#cb)" opacity="1"><rect transform="translate(696.7 683.3) skewY(-3)" x="-11.25" y="-4.75" width="22.5" height="9.5" rx="3.5" fill="#000"/></g>
<g filter="url(#hb)" opacity="0.28"><rect transform="translate(723.4 681.5) skewY(-2)" x="-13" y="-7" width="26" height="17" rx="4" fill="#000"/></g>
<g filter="url(#cb)" opacity="1"><rect transform="translate(723.4 681.5) skewY(-2)" x="-12" y="-5" width="24" height="10" rx="3.5" fill="#000"/></g>
<g filter="url(#hb)" opacity="0.28"><rect transform="translate(749.2 680.3) skewY(-1)" x="-12" y="-6.25" width="24" height="15.5" rx="4" fill="#000"/></g>
<g filter="url(#cb)" opacity="1"><rect transform="translate(749.2 680.3) skewY(-1)" x="-11" y="-4.25" width="22" height="8.5" rx="3.5" fill="#000"/></g>
<g filter="url(#hb)" opacity="0.28"><rect transform="translate(774.8 680.8) skewY(0)" x="-12.25" y="-7" width="24.5" height="17" rx="4" fill="#000"/></g>
<g filter="url(#cb)" opacity="1"><rect transform="translate(774.8 680.8) skewY(0)" x="-11.25" y="-5" width="22.5" height="10" rx="3.5" fill="#000"/></g>
<g filter="url(#hb)" opacity="0.28"><rect transform="translate(801 681.5) skewY(0)" x="-12" y="-6" width="24" height="15" rx="4" fill="#000"/></g>
<g filter="url(#cb)" opacity="1"><rect transform="translate(801 681.5) skewY(0)" x="-11" y="-4" width="22" height="8" rx="3.5" fill="#000"/></g>
<g filter="url(#hb)" opacity="0.28"><rect transform="translate(826 681) skewY(-1)" x="-12" y="-6.75" width="24" height="16.5" rx="4" fill="#000"/></g>
<g filter="url(#cb)" opacity="1"><rect transform="translate(826 681) skewY(-1)" x="-11" y="-4.75" width="22" height="9.5" rx="3.5" fill="#000"/></g>
<g filter="url(#hb)" opacity="0.28"><rect transform="translate(852 681.5) skewY(0)" x="-12.5" y="-7" width="25" height="17" rx="4" fill="#000"/></g>
<g filter="url(#cb)" opacity="1"><rect transform="translate(852 681.5) skewY(0)" x="-11.5" y="-5" width="23" height="10" rx="3.5" fill="#000"/></g>
<g filter="url(#hb)" opacity="0.28"><rect transform="translate(877.5 681.5) skewY(0)" x="-12" y="-7" width="24" height="17" rx="4" fill="#000"/></g>
<g filter="url(#cb)" opacity="1"><rect transform="translate(877.5 681.5) skewY(0)" x="-11" y="-5" width="22" height="10" rx="3.5" fill="#000"/></g>
<g filter="url(#hb)" opacity="0.28"><rect transform="translate(902.6 682.5) skewY(0)" x="-12" y="-7" width="24" height="17" rx="4" fill="#000"/></g>
<g filter="url(#cb)" opacity="1"><rect transform="translate(902.6 682.5) skewY(0)" x="-11" y="-5" width="22" height="10" rx="3.5" fill="#000"/></g>
<g filter="url(#hb)" opacity="0.28"><rect transform="translate(928 682.2) skewY(0)" x="-12.25" y="-7.25" width="24.5" height="17.5" rx="4" fill="#000"/></g>
<g filter="url(#cb)" opacity="1"><rect transform="translate(928 682.2) skewY(0)" x="-11.25" y="-5.25" width="22.5" height="10.5" rx="3.5" fill="#000"/></g>
<g filter="url(#hb)" opacity="0.28"><rect transform="translate(953.7 682.7) skewY(2)" x="-12" y="-6.75" width="24" height="16.5" rx="4" fill="#000"/></g>
<g filter="url(#cb)" opacity="1"><rect transform="translate(953.7 682.7) skewY(2)" x="-11" y="-4.75" width="22" height="9.5" rx="3.5" fill="#000"/></g>
<g filter="url(#hb)" opacity="0.28"><rect transform="translate(981 685) skewY(3)" x="-13.5" y="-7.5" width="27" height="18" rx="4" fill="#000"/></g>
<g filter="url(#cb)" opacity="1"><rect transform="translate(981 685) skewY(3)" x="-12.5" y="-5.5" width="25" height="11" rx="3.5" fill="#000"/></g>
<g filter="url(#hb)" opacity="0.28"><rect transform="translate(695.2 768.2) skewY(0)" x="-11.5" y="-5.5" width="23" height="14" rx="4" fill="#000"/></g>
<g filter="url(#cb)" opacity="1"><rect transform="translate(695.2 768.2) skewY(0)" x="-10.5" y="-3.5" width="21" height="7" rx="3.5" fill="#000"/></g>
<g filter="url(#hb)" opacity="0.28"><rect transform="translate(722.2 768.5) skewY(-2)" x="-10.75" y="-4.75" width="21.5" height="12.5" rx="4" fill="#000"/></g>
<g filter="url(#cb)" opacity="1"><rect transform="translate(722.2 768.5) skewY(-2)" x="-9.75" y="-2.75" width="19.5" height="5.5" rx="2.75" fill="#000"/></g>
<g filter="url(#hb)" opacity="0.28"><rect transform="translate(748.8 768.5) skewY(1)" x="-11.15" y="-5.25" width="22.3" height="13.5" rx="4" fill="#000"/></g>
<g filter="url(#cb)" opacity="1"><rect transform="translate(748.8 768.5) skewY(1)" x="-10.15" y="-3.25" width="20.3" height="6.5" rx="3.25" fill="#000"/></g>
<g filter="url(#hb)" opacity="0.28"><rect transform="translate(776.2 765.5) skewY(-6)" x="-9.5" y="-5.75" width="19" height="14.5" rx="4" fill="#000"/></g>
<g filter="url(#cb)" opacity="1"><rect transform="translate(776.2 765.5) skewY(-6)" x="-8.5" y="-3.75" width="17" height="7.5" rx="3.5" fill="#000"/></g>
<g filter="url(#hb)" opacity="0.28"><rect transform="translate(801.7 765.2) skewY(-1)" x="-11.5" y="-5.75" width="23" height="14.5" rx="4" fill="#000"/></g>
<g filter="url(#cb)" opacity="1"><rect transform="translate(801.7 765.2) skewY(-1)" x="-10.5" y="-3.75" width="21" height="7.5" rx="3.5" fill="#000"/></g>
<g filter="url(#hb)" opacity="0.28"><rect transform="translate(828 764.5) skewY(0)" x="-10" y="-5.5" width="20" height="14" rx="4" fill="#000"/></g>
<g filter="url(#cb)" opacity="1"><rect transform="translate(828 764.5) skewY(0)" x="-9" y="-3.5" width="18" height="7" rx="3.5" fill="#000"/></g>
<g filter="url(#hb)" opacity="0.28"><rect transform="translate(853 765.3) skewY(0)" x="-10" y="-5" width="20" height="13" rx="4" fill="#000"/></g>
<g filter="url(#cb)" opacity="1"><rect transform="translate(853 765.3) skewY(0)" x="-9" y="-3" width="18" height="6" rx="3" fill="#000"/></g>
<g filter="url(#hb)" opacity="0.28"><rect transform="translate(878.4 766.3) skewY(0)" x="-10.75" y="-5.5" width="21.5" height="14" rx="4" fill="#000"/></g>
<g filter="url(#cb)" opacity="1"><rect transform="translate(878.4 766.3) skewY(0)" x="-9.75" y="-3.5" width="19.5" height="7" rx="3.5" fill="#000"/></g>
<g filter="url(#hb)" opacity="0.28"><rect transform="translate(905 767) skewY(2)" x="-11.1" y="-6.5" width="22.2" height="16" rx="4" fill="#000"/></g>
<g filter="url(#cb)" opacity="1"><rect transform="translate(905 767) skewY(2)" x="-10.1" y="-4.5" width="20.2" height="9" rx="3.5" fill="#000"/></g>
<g filter="url(#hb)" opacity="0.28"><rect transform="translate(931.3 766) skewY(0)" x="-11.15" y="-5.25" width="22.3" height="13.5" rx="4" fill="#000"/></g>
<g filter="url(#cb)" opacity="1"><rect transform="translate(931.3 766) skewY(0)" x="-10.15" y="-3.25" width="20.3" height="6.5" rx="3.25" fill="#000"/></g>
<g filter="url(#hb)" opacity="0.28"><rect transform="translate(957.6 766.3) skewY(0)" x="-10.5" y="-4.75" width="21" height="12.5" rx="4" fill="#000"/></g>
<g filter="url(#cb)" opacity="1"><rect transform="translate(957.6 766.3) skewY(0)" x="-9.5" y="-2.75" width="19" height="5.5" rx="2.75" fill="#000"/></g>
<g filter="url(#hb)" opacity="0.28"><rect transform="translate(984.2 766.7) skewY(0)" x="-11.5" y="-5.25" width="23" height="13.5" rx="4" fill="#000"/></g>
<g filter="url(#cb)" opacity="1"><rect transform="translate(984.2 766.7) skewY(0)" x="-10.5" y="-3.25" width="21" height="6.5" rx="3.25" fill="#000"/></g>
<g filter="url(#hb)" opacity="0.28"><rect transform="translate(696.3 850.7) skewY(-5)" x="-11.15" y="-5.5" width="22.3" height="14" rx="4" fill="#000"/></g>
<g filter="url(#cb)" opacity="1"><rect transform="translate(696.3 850.7) skewY(-5)" x="-10.15" y="-3.5" width="20.3" height="7" rx="3.5" fill="#000"/></g>
<g filter="url(#hb)" opacity="0.28"><rect transform="translate(723.7 849) skewY(-2)" x="-11.5" y="-5.25" width="23" height="13.5" rx="4" fill="#000"/></g>
<g filter="url(#cb)" opacity="1"><rect transform="translate(723.7 849) skewY(-2)" x="-10.5" y="-3.25" width="21" height="6.5" rx="3.25" fill="#000"/></g>
<g filter="url(#hb)" opacity="0.28"><rect transform="translate(749.6 847.7) skewY(-1)" x="-11.1" y="-5.5" width="22.2" height="14" rx="4" fill="#000"/></g>
<g filter="url(#cb)" opacity="1"><rect transform="translate(749.6 847.7) skewY(-1)" x="-10.1" y="-3.5" width="20.2" height="7" rx="3.5" fill="#000"/></g>
<g filter="url(#hb)" opacity="0.28"><rect transform="translate(775.1 848) skewY(1)" x="-11.1" y="-5.5" width="22.2" height="14" rx="4" fill="#000"/></g>
<g filter="url(#cb)" opacity="1"><rect transform="translate(775.1 848) skewY(1)" x="-10.1" y="-3.5" width="20.2" height="7" rx="3.5" fill="#000"/></g>
<g filter="url(#hb)" opacity="0.28"><rect transform="translate(801.3 848.5) skewY(2)" x="-10.35" y="-5.5" width="20.7" height="14" rx="4" fill="#000"/></g>
<g filter="url(#cb)" opacity="1"><rect transform="translate(801.3 848.5) skewY(2)" x="-9.35" y="-3.5" width="18.7" height="7" rx="3.5" fill="#000"/></g>
<g filter="url(#hb)" opacity="0.28"><rect transform="translate(826.1 848) skewY(0)" x="-11.1" y="-5.5" width="22.2" height="14" rx="4" fill="#000"/></g>
<g filter="url(#cb)" opacity="1"><rect transform="translate(826.1 848) skewY(0)" x="-10.1" y="-3.5" width="20.2" height="7" rx="3.5" fill="#000"/></g>
<g filter="url(#hb)" opacity="0.28"><rect transform="translate(852.2 848) skewY(0)" x="-11.5" y="-5.25" width="23" height="13.5" rx="4" fill="#000"/></g>
<g filter="url(#cb)" opacity="1"><rect transform="translate(852.2 848) skewY(0)" x="-10.5" y="-3.25" width="21" height="6.5" rx="3.25" fill="#000"/></g>
<g filter="url(#hb)" opacity="0.28"><rect transform="translate(877.3 848.5) skewY(0)" x="-10.65" y="-5.25" width="21.3" height="13.5" rx="4" fill="#000"/></g>
<g filter="url(#cb)" opacity="1"><rect transform="translate(877.3 848.5) skewY(0)" x="-9.65" y="-3.25" width="19.3" height="6.5" rx="3.25" fill="#000"/></g>
<g filter="url(#hb)" opacity="0.28"><rect transform="translate(902.1 848.5) skewY(0)" x="-11.1" y="-5.5" width="22.2" height="14" rx="4" fill="#000"/></g>
<g filter="url(#cb)" opacity="1"><rect transform="translate(902.1 848.5) skewY(0)" x="-10.1" y="-3.5" width="20.2" height="7" rx="3.5" fill="#000"/></g>
<g filter="url(#hb)" opacity="0.28"><rect transform="translate(928.8 848.3) skewY(0)" x="-11.35" y="-5.25" width="22.7" height="13.5" rx="4" fill="#000"/></g>
<g filter="url(#cb)" opacity="1"><rect transform="translate(928.8 848.3) skewY(0)" x="-10.35" y="-3.25" width="20.7" height="6.5" rx="3.25" fill="#000"/></g>
<g filter="url(#hb)" opacity="0.28"><rect transform="translate(955 849) skewY(1)" x="-11.5" y="-5.5" width="23" height="14" rx="4" fill="#000"/></g>
<g filter="url(#cb)" opacity="1"><rect transform="translate(955 849) skewY(1)" x="-10.5" y="-3.5" width="21" height="7" rx="3.5" fill="#000"/></g>
<g filter="url(#hb)" opacity="0.28"><rect transform="translate(982.2 851) skewY(2)" x="-12.75" y="-6" width="25.5" height="15" rx="4" fill="#000"/></g>
<g filter="url(#cb)" opacity="1"><rect transform="translate(982.2 851) skewY(2)" x="-11.75" y="-4" width="23.5" height="8" rx="3.5" fill="#000"/></g>
<g filter="url(#hb)" opacity="0.01"><rect transform="translate(800 725.7) skewY(0)" x="-10.25" y="-3.5" width="20.5" height="10" rx="4" fill="#000"/></g>
<g filter="url(#cb)" opacity="0.1"><rect transform="translate(800 725.7) skewY(0)" x="-9.25" y="-1.5" width="18.5" height="3" rx="1.5" fill="#000"/></g>
<g filter="url(#hb)" opacity="0.02"><rect transform="translate(826 725.7) skewY(0)" x="-10.25" y="-3.5" width="20.5" height="10" rx="4" fill="#000"/></g>
<g filter="url(#cb)" opacity="0.12"><rect transform="translate(826 725.7) skewY(0)" x="-9.25" y="-1.5" width="18.5" height="3" rx="1.5" fill="#000"/></g>
<g filter="url(#hb)" opacity="0.01"><rect transform="translate(852.5 725.7) skewY(0)" x="-10.25" y="-3.5" width="20.5" height="10" rx="4" fill="#000"/></g>
<g filter="url(#cb)" opacity="0.1"><rect transform="translate(852.5 725.7) skewY(0)" x="-9.25" y="-1.5" width="18.5" height="3" rx="1.5" fill="#000"/></g>
<g filter="url(#hb)" opacity="0.01"><rect transform="translate(878.5 725.7) skewY(0)" x="-10.25" y="-3.5" width="20.5" height="10" rx="4" fill="#000"/></g>
<g filter="url(#cb)" opacity="0.08"><rect transform="translate(878.5 725.7) skewY(0)" x="-9.25" y="-1.5" width="18.5" height="3" rx="1.5" fill="#000"/></g>
<g filter="url(#hb)" opacity="0.15"><rect transform="translate(903 725.7) skewY(0)" x="-10.25" y="-4.1" width="20.5" height="11.2" rx="4" fill="#000"/></g>
<g filter="url(#cb)" opacity="1"><rect transform="translate(903 725.7) skewY(0)" x="-9.25" y="-2.1" width="18.5" height="4.2" rx="2.1" fill="#000"/></g>
<g filter="url(#hb)" opacity="0.15"><rect transform="translate(930 725.7) skewY(0)" x="-10.25" y="-4.1" width="20.5" height="11.2" rx="4" fill="#000"/></g>
<g filter="url(#cb)" opacity="1"><rect transform="translate(930 725.7) skewY(0)" x="-9.25" y="-2.1" width="18.5" height="4.2" rx="2.1" fill="#000"/></g>
<g filter="url(#hb)" opacity="0.15"><rect transform="translate(957 725.7) skewY(0)" x="-10.25" y="-4.1" width="20.5" height="11.2" rx="4" fill="#000"/></g>
<g filter="url(#cb)" opacity="1"><rect transform="translate(957 725.7) skewY(0)" x="-9.25" y="-2.1" width="18.5" height="4.2" rx="2.1" fill="#000"/></g>
<g filter="url(#hb)" opacity="0.05"><rect transform="translate(983 725.7) skewY(0)" x="-10.25" y="-3.75" width="20.5" height="10.5" rx="4" fill="#000"/></g>
<g filter="url(#cb)" opacity="0.33"><rect transform="translate(983 725.7) skewY(0)" x="-9.25" y="-1.75" width="18.5" height="3.5" rx="1.75" fill="#000"/></g>
<g filter="url(#hb)" opacity="0.03"><rect transform="translate(904 641.4) skewY(0)" x="-10.5" y="-3.75" width="21" height="10.5" rx="4" fill="#000"/></g>
<g filter="url(#cb)" opacity="0.13"><rect transform="translate(904 641.4) skewY(0)" x="-9.5" y="-1.75" width="19" height="3.5" rx="1.75" fill="#000"/></g>
<g filter="url(#hb)" opacity="0.03"><rect transform="translate(930 641.4) skewY(0)" x="-10.5" y="-3.75" width="21" height="10.5" rx="4" fill="#000"/></g>
<g filter="url(#cb)" opacity="0.17"><rect transform="translate(930 641.4) skewY(0)" x="-9.5" y="-1.75" width="19" height="3.5" rx="1.75" fill="#000"/></g>
<g filter="url(#hb)" opacity="0.01"><rect transform="translate(957 641.4) skewY(0)" x="-10.5" y="-3.75" width="21" height="10.5" rx="4" fill="#000"/></g>
<g filter="url(#cb)" opacity="0.05"><rect transform="translate(957 641.4) skewY(0)" x="-9.5" y="-1.75" width="19" height="3.5" rx="1.75" fill="#000"/></g>
<g filter="url(#hb)" opacity="0.07"><rect transform="translate(983 641.4) skewY(0)" x="-10.5" y="-3.9" width="21" height="10.8" rx="4" fill="#000"/></g>
<g filter="url(#cb)" opacity="0.36"><rect transform="translate(983 641.4) skewY(0)" x="-9.5" y="-1.9" width="19" height="3.8" rx="1.9" fill="#000"/></g></svg></body></html>
